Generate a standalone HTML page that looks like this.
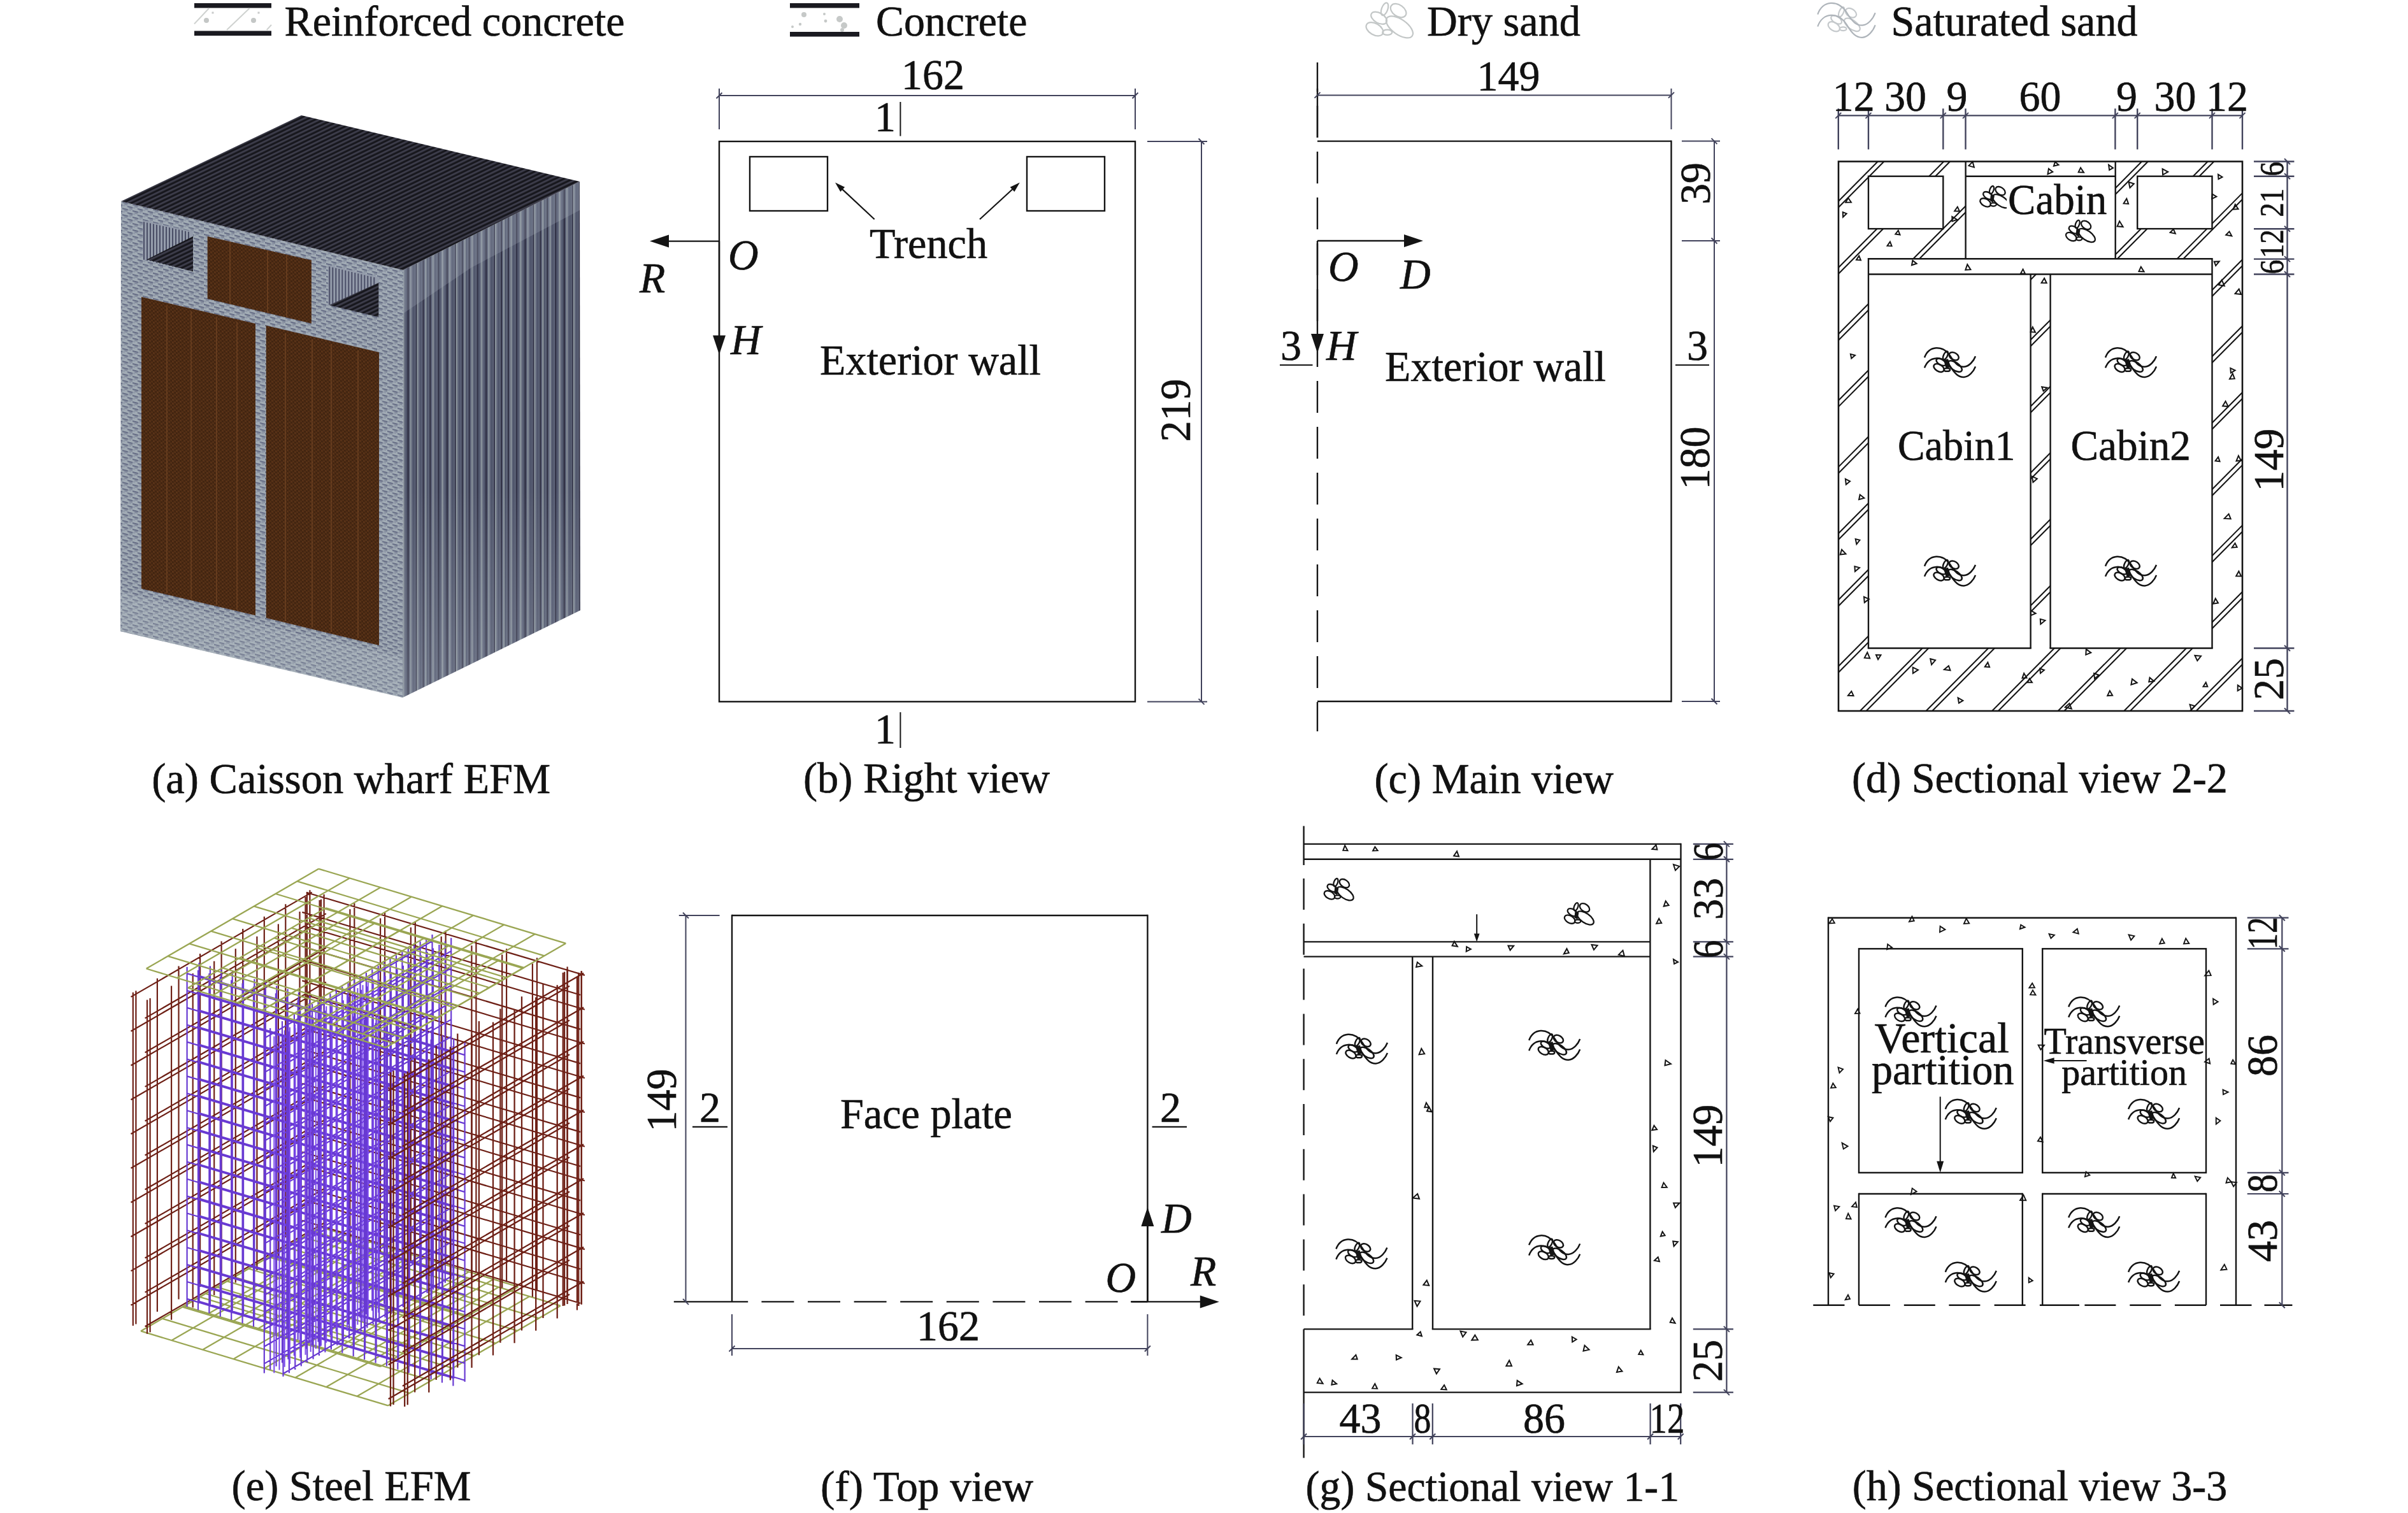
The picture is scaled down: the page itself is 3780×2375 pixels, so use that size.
<!DOCTYPE html>
<html><head><meta charset="utf-8"><title>Caisson wharf EFM</title>
<style>
html,body{margin:0;padding:0;background:#fff;}
svg{display:block;}
text{font-family:"Liberation Serif",serif;fill:#111;stroke:#111;stroke-width:0.65px;}
</style></head><body>
<svg width="3780" height="2375" viewBox="0 0 3780 2375">
<rect width="3780" height="2375" fill="#fff"/>
<g>
<rect x="305" y="5" width="121" height="7.5" fill="#1a1a20"/>
<rect x="305" y="48.5" width="121" height="7.5" fill="#1a1a20"/>
<line x1="305" y1="37.5" x2="328" y2="13" stroke="#cfd2d0" stroke-width="2"/>
<line x1="356" y1="47" x2="391.6" y2="13" stroke="#cfd2d0" stroke-width="2"/>
<line x1="418.7" y1="47" x2="426" y2="39" stroke="#cfd2d0" stroke-width="2"/>
<circle cx="324" cy="32" r="4" fill="#c4c7c6"/>
<circle cx="398" cy="32" r="4" fill="#c4c7c6"/>
<rect x="332.5" y="18.5" width="3" height="3" fill="#c8caca"/>
<rect x="404.5" y="18.5" width="3" height="3" fill="#c8caca"/>
</g>
<text x="0" y="0" text-anchor="start" style="font-size:68.31px;" transform="translate(446.6,55.8) scale(0.9662,1)" textLength="552.7" lengthAdjust="spacingAndGlyphs">Reinforced concrete</text>
<rect x="1240" y="5" width="109" height="7.5" fill="#1a1a20"/>
<rect x="1240" y="50" width="109" height="7.5" fill="#1a1a20"/>
<circle cx="1262" cy="23" r="4" fill="#c6c9c8"/>
<circle cx="1294" cy="22" r="2" fill="#c6c9c8"/>
<circle cx="1296" cy="33" r="2.4" fill="#c6c9c8"/>
<circle cx="1256" cy="38" r="2.2" fill="#c6c9c8"/>
<circle cx="1244" cy="42" r="2" fill="#c6c9c8"/>
<circle cx="1318" cy="30" r="5" fill="#c6c9c8"/>
<circle cx="1325" cy="40" r="5" fill="#c6c9c8"/>
<circle cx="1322" cy="47" r="3" fill="#c6c9c8"/>
<text x="0" y="0" text-anchor="start" style="font-size:68.31px;" transform="translate(1375.0,55.8) scale(0.9662,1)" textLength="245.8" lengthAdjust="spacingAndGlyphs">Concrete</text>
<text x="0" y="0" text-anchor="start" style="font-size:68.31px;" transform="translate(2240.0,55.8) scale(0.9662,1)" textLength="249.4" lengthAdjust="spacingAndGlyphs">Dry sand</text>
<text x="0" y="0" text-anchor="start" style="font-size:68.31px;" transform="translate(2968.5,55.8) scale(0.9662,1)" textLength="400.5" lengthAdjust="spacingAndGlyphs">Saturated sand</text>
<defs>
<g id="grains" fill="none">
 <ellipse cx="-4.4" cy="-11.1" rx="3.0" ry="6.5" transform="rotate(20 -4.4 -11.1)"/>
 <ellipse cx="9.1" cy="-9.6" rx="8.5" ry="5.6" transform="rotate(35 9.1 -9.6)"/>
 <ellipse cx="-10" cy="-2.3" rx="8.5" ry="4.9" transform="rotate(30 -10 -2.3)"/>
 <ellipse cx="-14.2" cy="8.6" rx="9.1" ry="5.6" transform="rotate(30 -14.2 8.6)"/>
 <ellipse cx="10.2" cy="6.5" rx="15.2" ry="7.4" transform="rotate(35 10.2 6.5)"/>
 <ellipse cx="-1.8" cy="11.7" rx="4.7" ry="2.6"/>
</g>
<g id="grains2" fill="none">
 <ellipse cx="-7" cy="-11.2" rx="3.0" ry="7.0" transform="rotate(25 -7 -11.2)"/>
 <ellipse cx="6.2" cy="-10" rx="8.2" ry="5.4" transform="rotate(30 6.2 -10)"/>
 <ellipse cx="-14" cy="-0.8" rx="8.2" ry="4.4" transform="rotate(30 -14 -0.8)"/>
 <ellipse cx="-17.4" cy="8.3" rx="8.8" ry="5.4" transform="rotate(30 -17.4 8.3)"/>
 <ellipse cx="7.9" cy="5.8" rx="12.6" ry="6.0" transform="rotate(35 7.9 5.8)"/>
 <ellipse cx="-4.6" cy="11.2" rx="4.7" ry="2.4"/>
</g>
<g id="dry" stroke="#141414" stroke-width="2.3"><use href="#grains"/><path d="M-6,-4 L0,-2 L-2,9 L-7,6 Z" fill="#141414" stroke="none"/></g>
<g id="sat" stroke="#141414" stroke-width="2.5" fill="none" transform="translate(0,1.2)">
 <use href="#grains2"/>
 <path d="M-10,-4 L-3,-6 L1,6 L-6,10 Z" fill="#141414" stroke="none"/>
 <path d="M-40,-8 C-33,-27 -12,-28 0,-11 C8,2 14,7 22,6.5 C30,6 37,-2 40,-10"/>
 <path d="M-40,8.2 C-33,-10.8 -12,-11.8 0,5.2 C8,18.2 14,23.2 22,22.7 C30,22.2 37,14.2 40,6.2"/>
</g>
</defs>
<g transform="translate(2180.6,32) scale(1.6)" stroke="#c3c7c7" stroke-width="1.4"><use href="#grains"/></g>
<g transform="translate(2898.5,32) scale(1.13,1.18)" stroke="#aeb4ba" stroke-width="1.9" fill="none"><use href="#grains2" stroke="#c5c9cc"/>
 <path d="M-40,-8 C-33,-27 -12,-28 0,-11 C8,2 14,7 22,6.5 C30,6 37,-2 40,-10"/>
 <path d="M-40,8.2 C-33,-10.8 -12,-11.8 0,5.2 C8,18.2 14,23.2 22,22.7 C30,22.2 37,14.2 40,6.2"/></g>
<defs>
<pattern id="pTop" width="6" height="6" patternUnits="userSpaceOnUse" patternTransform="rotate(-25.5)">
 <rect width="6" height="6" fill="#17171d"/><rect y="0" width="6" height="2.8" fill="#3d3d4b"/>
</pattern>
<pattern id="pFront" width="16" height="10" patternUnits="userSpaceOnUse" patternTransform="skewY(13.5)">
 <rect width="16" height="10" fill="#a2acb5"/>
 <rect x="0" y="0" width="9" height="2.2" fill="#666d85"/><rect x="8" y="5" width="9" height="2.2" fill="#666d85"/>
 <rect x="3" y="2.5" width="5" height="2" fill="#7d8598"/><rect x="11" y="7.5" width="5" height="2" fill="#7d8598"/>
 <rect x="0" y="5" width="4" height="1.6" fill="#8a92a3"/><rect x="10" y="0.3" width="4" height="1.6" fill="#8a92a3"/>
</pattern>
<pattern id="pRight" width="61.3" height="10" patternUnits="userSpaceOnUse">
 <rect width="61.3" height="10" fill="#5e6479"/><rect x="0.0" width="2" height="10" fill="#2e2e42"/><rect x="4.5" width="2" height="10" fill="#8e989f"/><rect x="8.5" width="2" height="10" fill="#4c5268"/><rect x="13.0" width="2.2" height="10" fill="#2e2e42"/><rect x="15.2" width="2" height="10" fill="#4c5268"/><rect x="19.2" width="2.3" height="10" fill="#8e989f"/><rect x="24.5" width="2" height="10" fill="#4c5268"/><rect x="26.5" width="2.4" height="10" fill="#2e2e42"/><rect x="30.9" width="1.8" height="10" fill="#8e989f"/><rect x="35.2" width="2.5" height="10" fill="#4c5268"/><rect x="39.7" width="1.8" height="10" fill="#2e2e42"/><rect x="41.5" width="2.2" height="10" fill="#8e989f"/><rect x="46.3" width="2" height="10" fill="#4c5268"/><rect x="50.5" width="2" height="10" fill="#2e2e42"/><rect x="54.3" width="2.4" height="10" fill="#8e989f"/><rect x="56.7" width="2.2" height="10" fill="#4c5268"/>
</pattern>
<pattern id="pBrown" width="6" height="6" patternUnits="userSpaceOnUse" patternTransform="skewY(13.5)">
 <rect width="6" height="6" fill="#5a3318"/><rect x="0" y="0" width="3" height="3" fill="#412410"/><rect x="3" y="3" width="3" height="3" fill="#412410"/><rect x="3" y="0" width="3" height="1.5" fill="#4e2c14"/>
</pattern>
<linearGradient id="gRight" x1="0" y1="0" x2="0" y2="1">
 <stop offset="0" stop-color="#b0b8c4" stop-opacity="0"/><stop offset=".6" stop-color="#b0b8c4" stop-opacity="0"/><stop offset="1" stop-color="#b0b8c4" stop-opacity=".28"/>
</linearGradient>
</defs>
<polygon points="633.0,424.0 910.0,285.0 911.0,958.0 632.0,1095.0" fill="url(#pRight)" stroke="none" stroke-width="0" />
<polygon points="633.0,424.0 910.0,285.0 910.0,330.0 740.0,420.0 633.0,492.0" fill="#b0b8c4" stroke="none" stroke-width="0" opacity=".24"/>
<polygon points="633.0,424.0 910.0,285.0 911.0,958.0 632.0,1095.0" fill="url(#gRight)" stroke="none" stroke-width="0" />
<polygon points="190.0,316.0 633.0,424.0 632.0,1095.0 189.0,991.0" fill="url(#pFront)" stroke="none" stroke-width="0" />
<polygon points="189.0,930.0 632.0,1032.0 632.0,1095.0 189.0,991.0" fill="#c4ccd2" stroke="none" stroke-width="0" opacity=".2"/>
<polygon points="190.0,316.0 473.0,181.0 910.0,285.0 633.0,424.0" fill="url(#pTop)" stroke="none" stroke-width="0" />
<polygon points="325.7,371.0 488.9,408.6 488.9,507.8 325.7,468.9" fill="url(#pBrown)" stroke="none" stroke-width="0" />
<polygon points="222.0,466.0 401.0,508.0 401.0,966.0 222.0,924.0" fill="url(#pBrown)" stroke="none" stroke-width="0" />
<polygon points="417.7,511.0 595.0,553.0 595.0,1013.0 417.7,970.0" fill="url(#pBrown)" stroke="none" stroke-width="0" />
<line x1="262" y1="479.4" x2="262" y2="931.4" stroke="#7a4a26" stroke-width="2" opacity=".55"/>
<line x1="300" y1="488.3" x2="300" y2="940.3" stroke="#7a4a26" stroke-width="2" opacity=".55"/>
<line x1="340" y1="497.7" x2="340" y2="949.7" stroke="#7a4a26" stroke-width="2" opacity=".55"/>
<line x1="372" y1="505.2" x2="372" y2="957.2" stroke="#7a4a26" stroke-width="2" opacity=".55"/>
<line x1="448" y1="523.1" x2="448" y2="975.1" stroke="#7a4a26" stroke-width="2" opacity=".55"/>
<line x1="490" y1="533.0" x2="490" y2="985.0" stroke="#7a4a26" stroke-width="2" opacity=".55"/>
<line x1="520" y1="540.0" x2="520" y2="992.0" stroke="#7a4a26" stroke-width="2" opacity=".55"/>
<line x1="562" y1="549.9" x2="562" y2="1001.9" stroke="#7a4a26" stroke-width="2" opacity=".55"/>
<line x1="361" y1="379.3" x2="361" y2="477.3" stroke="#7a4a26" stroke-width="2" opacity=".55"/>
<line x1="420" y1="393.2" x2="420" y2="491.2" stroke="#7a4a26" stroke-width="2" opacity=".55"/>
<line x1="450" y1="400.2" x2="450" y2="498.2" stroke="#7a4a26" stroke-width="2" opacity=".55"/>
<polygon points="224.0,345.8 303.0,363.4 303.0,426.0 224.0,407.3" fill="#949cab" stroke="none" stroke-width="0" />
<line x1="226.0" y1="348.2" x2="226.0" y2="407.8" stroke="#4a4e66" stroke-width="2"/>
<line x1="231.0" y1="349.4" x2="231.0" y2="409.0" stroke="#4a4e66" stroke-width="2"/>
<line x1="236.0" y1="350.5" x2="236.0" y2="410.1" stroke="#4a4e66" stroke-width="2"/>
<line x1="241.0" y1="351.6" x2="241.0" y2="411.3" stroke="#4a4e66" stroke-width="2"/>
<line x1="246.0" y1="352.7" x2="246.0" y2="412.5" stroke="#4a4e66" stroke-width="2"/>
<line x1="251.0" y1="353.8" x2="251.0" y2="413.7" stroke="#4a4e66" stroke-width="2"/>
<line x1="256.0" y1="354.9" x2="256.0" y2="414.9" stroke="#4a4e66" stroke-width="2"/>
<line x1="261.0" y1="356.0" x2="261.0" y2="416.1" stroke="#4a4e66" stroke-width="2"/>
<line x1="266.0" y1="357.2" x2="266.0" y2="417.2" stroke="#4a4e66" stroke-width="2"/>
<line x1="271.0" y1="358.3" x2="271.0" y2="418.4" stroke="#4a4e66" stroke-width="2"/>
<line x1="276.0" y1="359.4" x2="276.0" y2="419.6" stroke="#4a4e66" stroke-width="2"/>
<line x1="281.0" y1="360.5" x2="281.0" y2="420.8" stroke="#4a4e66" stroke-width="2"/>
<line x1="286.0" y1="361.6" x2="286.0" y2="422.0" stroke="#4a4e66" stroke-width="2"/>
<line x1="291.0" y1="362.7" x2="291.0" y2="423.2" stroke="#4a4e66" stroke-width="2"/>
<line x1="296.0" y1="363.8" x2="296.0" y2="424.3" stroke="#4a4e66" stroke-width="2"/>
<polygon points="230.3,407.5 303.0,371.0 303.0,426.2" fill="url(#pTop)" stroke="none" stroke-width="0" />
<polygon points="515.3,416.0 594.4,435.0 594.4,496.5 515.3,477.6" fill="#949cab" stroke="none" stroke-width="0" />
<line x1="517.3" y1="418.5" x2="517.3" y2="478.1" stroke="#4a4e66" stroke-width="2"/>
<line x1="522.3" y1="419.7" x2="522.3" y2="479.3" stroke="#4a4e66" stroke-width="2"/>
<line x1="527.3" y1="420.9" x2="527.3" y2="480.5" stroke="#4a4e66" stroke-width="2"/>
<line x1="532.3" y1="422.1" x2="532.3" y2="481.7" stroke="#4a4e66" stroke-width="2"/>
<line x1="537.3" y1="423.3" x2="537.3" y2="482.9" stroke="#4a4e66" stroke-width="2"/>
<line x1="542.3" y1="424.5" x2="542.3" y2="484.1" stroke="#4a4e66" stroke-width="2"/>
<line x1="547.3" y1="425.7" x2="547.3" y2="485.2" stroke="#4a4e66" stroke-width="2"/>
<line x1="552.3" y1="426.9" x2="552.3" y2="486.4" stroke="#4a4e66" stroke-width="2"/>
<line x1="557.3" y1="428.1" x2="557.3" y2="487.6" stroke="#4a4e66" stroke-width="2"/>
<line x1="562.3" y1="429.3" x2="562.3" y2="488.8" stroke="#4a4e66" stroke-width="2"/>
<line x1="567.3" y1="430.5" x2="567.3" y2="490.0" stroke="#4a4e66" stroke-width="2"/>
<line x1="572.3" y1="431.7" x2="572.3" y2="491.2" stroke="#4a4e66" stroke-width="2"/>
<line x1="577.3" y1="432.9" x2="577.3" y2="492.4" stroke="#4a4e66" stroke-width="2"/>
<line x1="582.3" y1="434.1" x2="582.3" y2="493.6" stroke="#4a4e66" stroke-width="2"/>
<line x1="587.3" y1="435.3" x2="587.3" y2="494.8" stroke="#4a4e66" stroke-width="2"/>
<polygon points="516.5,478.9 594.4,443.7 594.4,497.7" fill="url(#pTop)" stroke="none" stroke-width="0" />
<text x="0" y="0" text-anchor="start" style="font-size:68.31px;" transform="translate(238.2,1244.6) scale(0.9662,1)" textLength="647.9" lengthAdjust="spacingAndGlyphs">(a) Caisson wharf EFM</text>
<rect x="1129.0" y="222.0" width="653.0" height="879.4" fill="none" stroke="#141414" stroke-width="2.4"/>
<rect x="1177.0" y="246.0" width="122.0" height="85.0" fill="none" stroke="#141414" stroke-width="2.4"/>
<rect x="1612.0" y="246.0" width="122.0" height="85.0" fill="none" stroke="#141414" stroke-width="2.4"/>
<line x1="1129.0" y1="150.0" x2="1782.0" y2="150.0" stroke="#41425b" stroke-width="2" />
<line x1="1129.0" y1="139.0" x2="1129.0" y2="203.0" stroke="#41425b" stroke-width="2" />
<line x1="1782.0" y1="139.0" x2="1782.0" y2="203.0" stroke="#41425b" stroke-width="2" />
<line x1="1124.5" y1="154.5" x2="1133.5" y2="145.5" stroke="#41425b" stroke-width="2" />
<line x1="1777.5" y1="154.5" x2="1786.5" y2="145.5" stroke="#41425b" stroke-width="2" />
<text x="0" y="0" text-anchor="middle" style="font-size:68.31px;" transform="translate(1464.5,140.0) scale(0.9662,1)">162</text>
<text x="0" y="0" text-anchor="start" style="font-size:68.31px;" transform="translate(1373.0,205.6) scale(0.9662,1)">1</text>
<line x1="1413.4" y1="160.0" x2="1413.4" y2="213.6" stroke="#141414" stroke-width="2" />
<text x="0" y="0" text-anchor="start" style="font-size:68.31px;" transform="translate(1373.0,1167.0) scale(0.9662,1)">1</text>
<line x1="1413.4" y1="1118.0" x2="1413.4" y2="1174.0" stroke="#141414" stroke-width="2" />
<line x1="1886.0" y1="222.0" x2="1886.0" y2="1101.4" stroke="#41425b" stroke-width="2" />
<line x1="1801.0" y1="222.0" x2="1895.0" y2="222.0" stroke="#41425b" stroke-width="2" />
<line x1="1801.0" y1="1101.4" x2="1895.0" y2="1101.4" stroke="#41425b" stroke-width="2" />
<line x1="1881.5" y1="217.5" x2="1890.5" y2="226.5" stroke="#41425b" stroke-width="2" />
<line x1="1881.5" y1="1096.9" x2="1890.5" y2="1105.9" stroke="#41425b" stroke-width="2" />
<text x="0" y="0" text-anchor="middle" style="font-size:68.31px;" transform="translate(1868.0,644.0) rotate(-90) scale(0.9662,1)">219</text>
<line x1="1372.7" y1="344.3" x2="1321.2" y2="296.1" stroke="#141414" stroke-width="2.2" />
<polygon points="1311.0,286.5 1326.1,293.8 1319.3,301.1" fill="#141414" stroke="none" stroke-width="0" />
<line x1="1538.0" y1="344.3" x2="1590.5" y2="296.0" stroke="#141414" stroke-width="2.2" />
<polygon points="1600.8,286.5 1592.4,301.0 1585.6,293.7" fill="#141414" stroke="none" stroke-width="0" />
<text x="0" y="0" text-anchor="start" style="font-size:68.31px;" transform="translate(1365.0,405.0) scale(0.9662,1)" textLength="191.5" lengthAdjust="spacingAndGlyphs">Trench</text>
<text x="0" y="0" text-anchor="start" style="font-size:68.31px;" transform="translate(1287.0,588.0) scale(0.9662,1)" textLength="359.1" lengthAdjust="spacingAndGlyphs">Exterior wall</text>
<line x1="1129.0" y1="378.6" x2="1048.0" y2="378.6" stroke="#141414" stroke-width="2.4" />
<polygon points="1020.0,378.6 1050.0,368.6 1050.0,388.6" fill="#141414" stroke="none" stroke-width="0" />
<line x1="1129.0" y1="378.6" x2="1129.0" y2="528.4" stroke="#141414" stroke-width="2.4" />
<polygon points="1129.0,556.4 1119.0,526.4 1139.0,526.4" fill="#141414" stroke="none" stroke-width="0" />
<text x="0" y="0" text-anchor="start" style="font-size:68.31px;font-style:italic;" transform="translate(1143.0,423.0) scale(0.9662,1)">O</text>
<text x="0" y="0" text-anchor="start" style="font-size:68.31px;font-style:italic;" transform="translate(1004.0,459.0) scale(0.9662,1)">R</text>
<text x="0" y="0" text-anchor="start" style="font-size:68.31px;font-style:italic;" transform="translate(1147.0,556.0) scale(0.9662,1)">H</text>
<text x="0" y="0" text-anchor="start" style="font-size:68.31px;" transform="translate(1261.0,1243.5) scale(0.9662,1)" textLength="400.5" lengthAdjust="spacingAndGlyphs">(b) Right view</text>
<line x1="2068.0" y1="221.6" x2="2623.5" y2="221.6" stroke="#141414" stroke-width="2.4" />
<line x1="2623.5" y1="220.4" x2="2623.5" y2="1102.2" stroke="#141414" stroke-width="2.4" />
<line x1="2068.0" y1="1101.0" x2="2623.5" y2="1101.0" stroke="#141414" stroke-width="2.4" />
<line x1="2068.0" y1="98.0" x2="2068.0" y2="1148.0" stroke="#141414" stroke-width="2.4" stroke-dasharray="50 22" stroke-dashoffset="4"/>
<line x1="2068.0" y1="149.4" x2="2623.5" y2="149.4" stroke="#41425b" stroke-width="2" />
<line x1="2068.0" y1="139.0" x2="2068.0" y2="216.0" stroke="#141414" stroke-width="2.4" />
<line x1="2623.5" y1="139.0" x2="2623.5" y2="203.0" stroke="#41425b" stroke-width="2" />
<line x1="2063.5" y1="153.9" x2="2072.5" y2="144.9" stroke="#41425b" stroke-width="2" />
<line x1="2619.0" y1="153.9" x2="2628.0" y2="144.9" stroke="#41425b" stroke-width="2" />
<text x="0" y="0" text-anchor="middle" style="font-size:68.31px;" transform="translate(2368.0,141.5) scale(0.9662,1)">149</text>
<line x1="2691.0" y1="221.6" x2="2691.0" y2="1101.0" stroke="#41425b" stroke-width="2" />
<line x1="2640.0" y1="221.6" x2="2700.0" y2="221.6" stroke="#41425b" stroke-width="2" />
<line x1="2686.5" y1="217.1" x2="2695.5" y2="226.1" stroke="#41425b" stroke-width="2" />
<line x1="2640.0" y1="378.0" x2="2700.0" y2="378.0" stroke="#41425b" stroke-width="2" />
<line x1="2686.5" y1="373.5" x2="2695.5" y2="382.5" stroke="#41425b" stroke-width="2" />
<line x1="2640.0" y1="1101.0" x2="2700.0" y2="1101.0" stroke="#41425b" stroke-width="2" />
<line x1="2686.5" y1="1096.5" x2="2695.5" y2="1105.5" stroke="#41425b" stroke-width="2" />
<text x="0" y="0" text-anchor="middle" style="font-size:68.31px;" transform="translate(2684.0,288.0) rotate(-90) scale(0.9662,1)">39</text>
<text x="0" y="0" text-anchor="middle" style="font-size:68.31px;" transform="translate(2683.0,719.0) rotate(-90) scale(0.9662,1)">180</text>
<line x1="2068.0" y1="378.0" x2="2206.0" y2="378.0" stroke="#141414" stroke-width="2.4" />
<polygon points="2234.0,378.0 2204.0,388.0 2204.0,368.0" fill="#141414" stroke="none" stroke-width="0" />
<line x1="2068.0" y1="378.0" x2="2068.0" y2="526.0" stroke="#141414" stroke-width="2.4" />
<polygon points="2068.0,554.0 2058.0,524.0 2078.0,524.0" fill="#141414" stroke="none" stroke-width="0" />
<text x="0" y="0" text-anchor="start" style="font-size:68.31px;font-style:italic;" transform="translate(2085.0,441.0) scale(0.9662,1)">O</text>
<text x="0" y="0" text-anchor="start" style="font-size:68.31px;font-style:italic;" transform="translate(2198.0,453.0) scale(0.9662,1)">D</text>
<text x="0" y="0" text-anchor="start" style="font-size:68.31px;font-style:italic;" transform="translate(2082.0,564.6) scale(0.9662,1)">H</text>
<text x="0" y="0" text-anchor="start" style="font-size:68.31px;" transform="translate(2010.0,564.6) scale(0.9662,1)">3</text>
<line x1="2009.0" y1="573.0" x2="2060.5" y2="573.0" stroke="#141414" stroke-width="2.2" />
<text x="0" y="0" text-anchor="start" style="font-size:68.31px;" transform="translate(2648.0,564.6) scale(0.9662,1)">3</text>
<line x1="2630.0" y1="573.0" x2="2683.0" y2="573.0" stroke="#141414" stroke-width="2.2" />
<text x="0" y="0" text-anchor="start" style="font-size:68.31px;" transform="translate(2174.0,597.6) scale(0.9662,1)" textLength="359.1" lengthAdjust="spacingAndGlyphs">Exterior wall</text>
<text x="0" y="0" text-anchor="start" style="font-size:68.31px;" transform="translate(2157.5,1244.7) scale(0.9662,1)" textLength="388.6" lengthAdjust="spacingAndGlyphs">(c) Main view</text>
<line x1="1149.0" y1="1437.0" x2="1801.4" y2="1437.0" stroke="#141414" stroke-width="2.4" />
<line x1="1149.0" y1="1435.8" x2="1149.0" y2="2043.4" stroke="#141414" stroke-width="2.4" />
<line x1="1801.4" y1="1435.8" x2="1801.4" y2="2043.4" stroke="#141414" stroke-width="2.4" />
<line x1="1057.8" y1="2043.4" x2="1174.2" y2="2043.4" stroke="#141414" stroke-width="2.4" />
<line x1="1195.4" y1="2043.4" x2="1801.4" y2="2043.4" stroke="#141414" stroke-width="2.4" stroke-dasharray="51 21.6"/>
<line x1="1775.0" y1="2043.4" x2="1885.8" y2="2043.4" stroke="#141414" stroke-width="2.4" />
<polygon points="1913.8,2043.4 1883.8,2053.4 1883.8,2033.4" fill="#141414" stroke="none" stroke-width="0" />
<line x1="1801.4" y1="2043.4" x2="1801.4" y2="1923.0" stroke="#141414" stroke-width="2.4" />
<polygon points="1801.4,1895.0 1811.4,1925.0 1791.4,1925.0" fill="#141414" stroke="none" stroke-width="0" />
<line x1="1076.5" y1="1437.0" x2="1076.5" y2="2043.4" stroke="#41425b" stroke-width="2" />
<line x1="1065.8" y1="1437.0" x2="1129.6" y2="1437.0" stroke="#41425b" stroke-width="2" />
<line x1="1072.0" y1="1432.5" x2="1081.0" y2="1441.5" stroke="#41425b" stroke-width="2" />
<line x1="1072.0" y1="2038.9" x2="1081.0" y2="2047.9" stroke="#41425b" stroke-width="2" />
<text x="0" y="0" text-anchor="middle" style="font-size:68.31px;" transform="translate(1061.0,1727.0) rotate(-90) scale(0.9662,1)">149</text>
<text x="0" y="0" text-anchor="start" style="font-size:68.31px;" transform="translate(1098.0,1760.8) scale(0.9662,1)">2</text>
<line x1="1087.0" y1="1768.8" x2="1142.0" y2="1768.8" stroke="#141414" stroke-width="2.2" />
<text x="0" y="0" text-anchor="start" style="font-size:68.31px;" transform="translate(1821.0,1760.8) scale(0.9662,1)">2</text>
<line x1="1808.6" y1="1768.8" x2="1863.0" y2="1768.8" stroke="#141414" stroke-width="2.2" />
<text x="0" y="0" text-anchor="start" style="font-size:68.31px;" transform="translate(1319.0,1770.8) scale(0.9662,1)" textLength="279.4" lengthAdjust="spacingAndGlyphs">Face plate</text>
<text x="0" y="0" text-anchor="start" style="font-size:68.31px;font-style:italic;" transform="translate(1823.0,1934.5) scale(0.9662,1)">D</text>
<text x="0" y="0" text-anchor="start" style="font-size:68.31px;font-style:italic;" transform="translate(1735.6,2027.5) scale(0.9662,1)">O</text>
<text x="0" y="0" text-anchor="start" style="font-size:68.31px;font-style:italic;" transform="translate(1869.0,2017.5) scale(0.9662,1)">R</text>
<line x1="1149.0" y1="2117.0" x2="1801.4" y2="2117.0" stroke="#41425b" stroke-width="2" />
<line x1="1149.0" y1="2063.0" x2="1149.0" y2="2128.0" stroke="#41425b" stroke-width="2" />
<line x1="1801.4" y1="2063.0" x2="1801.4" y2="2128.0" stroke="#41425b" stroke-width="2" />
<line x1="1144.5" y1="2121.5" x2="1153.5" y2="2112.5" stroke="#41425b" stroke-width="2" />
<line x1="1796.9" y1="2121.5" x2="1805.9" y2="2112.5" stroke="#41425b" stroke-width="2" />
<text x="0" y="0" text-anchor="middle" style="font-size:68.31px;" transform="translate(1488.4,2104.0) scale(0.9662,1)">162</text>
<text x="0" y="0" text-anchor="start" style="font-size:68.31px;" transform="translate(1288.0,2356.4) scale(0.9662,1)" textLength="345.7" lengthAdjust="spacingAndGlyphs">(f) Top view</text>
<clipPath id="clipD"><path d="M2886,253.5H3520V1116H2886ZM2933,276.7H3050.3V359.1H2933ZM3355.2,276.7H3472.5V359.1H3355.2ZM3085.6,253.5H3320.7V406.3H3085.6ZM2933,406.3H3472.5V430.5H2933ZM2933,430.5H3187.6V1017.5H2933ZM3218.6,430.5H3472.5V1017.5H3218.6Z" clip-rule="evenodd"/></clipPath>
<g clip-path="url(#clipD)">
<line x1="2881.0" y1="216.4" x2="3525.0" y2="-432.0" stroke="#141414" stroke-width="2.1" />
<line x1="2881.0" y1="226.2" x2="3525.0" y2="-422.2" stroke="#141414" stroke-width="2.1" />
<line x1="2881.0" y1="320.7" x2="3525.0" y2="-327.7" stroke="#141414" stroke-width="2.1" />
<line x1="2881.0" y1="330.5" x2="3525.0" y2="-317.9" stroke="#141414" stroke-width="2.1" />
<line x1="2881.0" y1="425.0" x2="3525.0" y2="-223.4" stroke="#141414" stroke-width="2.1" />
<line x1="2881.0" y1="434.8" x2="3525.0" y2="-213.6" stroke="#141414" stroke-width="2.1" />
<line x1="2881.0" y1="529.3" x2="3525.0" y2="-119.1" stroke="#141414" stroke-width="2.1" />
<line x1="2881.0" y1="539.1" x2="3525.0" y2="-109.3" stroke="#141414" stroke-width="2.1" />
<line x1="2881.0" y1="633.6" x2="3525.0" y2="-14.8" stroke="#141414" stroke-width="2.1" />
<line x1="2881.0" y1="643.4" x2="3525.0" y2="-5.0" stroke="#141414" stroke-width="2.1" />
<line x1="2881.0" y1="737.9" x2="3525.0" y2="89.5" stroke="#141414" stroke-width="2.1" />
<line x1="2881.0" y1="747.7" x2="3525.0" y2="99.3" stroke="#141414" stroke-width="2.1" />
<line x1="2881.0" y1="842.2" x2="3525.0" y2="193.8" stroke="#141414" stroke-width="2.1" />
<line x1="2881.0" y1="852.0" x2="3525.0" y2="203.6" stroke="#141414" stroke-width="2.1" />
<line x1="2881.0" y1="946.5" x2="3525.0" y2="298.1" stroke="#141414" stroke-width="2.1" />
<line x1="2881.0" y1="956.3" x2="3525.0" y2="307.9" stroke="#141414" stroke-width="2.1" />
<line x1="2881.0" y1="1050.8" x2="3525.0" y2="402.4" stroke="#141414" stroke-width="2.1" />
<line x1="2881.0" y1="1060.6" x2="3525.0" y2="412.2" stroke="#141414" stroke-width="2.1" />
<line x1="2881.0" y1="1155.1" x2="3525.0" y2="506.7" stroke="#141414" stroke-width="2.1" />
<line x1="2881.0" y1="1164.9" x2="3525.0" y2="516.5" stroke="#141414" stroke-width="2.1" />
<line x1="2881.0" y1="1259.4" x2="3525.0" y2="611.0" stroke="#141414" stroke-width="2.1" />
<line x1="2881.0" y1="1269.2" x2="3525.0" y2="620.8" stroke="#141414" stroke-width="2.1" />
<line x1="2881.0" y1="1363.7" x2="3525.0" y2="715.3" stroke="#141414" stroke-width="2.1" />
<line x1="2881.0" y1="1373.5" x2="3525.0" y2="725.1" stroke="#141414" stroke-width="2.1" />
<line x1="2881.0" y1="1468.0" x2="3525.0" y2="819.6" stroke="#141414" stroke-width="2.1" />
<line x1="2881.0" y1="1477.8" x2="3525.0" y2="829.4" stroke="#141414" stroke-width="2.1" />
<line x1="2881.0" y1="1572.3" x2="3525.0" y2="923.9" stroke="#141414" stroke-width="2.1" />
<line x1="2881.0" y1="1582.1" x2="3525.0" y2="933.7" stroke="#141414" stroke-width="2.1" />
<line x1="2881.0" y1="1676.6" x2="3525.0" y2="1028.2" stroke="#141414" stroke-width="2.1" />
<line x1="2881.0" y1="1686.4" x2="3525.0" y2="1038.0" stroke="#141414" stroke-width="2.1" />
<line x1="2881.0" y1="1780.9" x2="3525.0" y2="1132.5" stroke="#141414" stroke-width="2.1" />
<line x1="2881.0" y1="1790.7" x2="3525.0" y2="1142.3" stroke="#141414" stroke-width="2.1" />
</g>
<rect x="2886.0" y="253.5" width="634.0" height="862.5" fill="none" stroke="#141414" stroke-width="2.6"/>
<rect x="2933.0" y="276.7" width="117.3" height="82.4" fill="none" stroke="#141414" stroke-width="2.4"/>
<rect x="3355.2" y="276.7" width="117.3" height="82.4" fill="none" stroke="#141414" stroke-width="2.4"/>
<line x1="3085.6" y1="253.5" x2="3085.6" y2="406.3" stroke="#141414" stroke-width="2.4" />
<line x1="3320.7" y1="253.5" x2="3320.7" y2="406.3" stroke="#141414" stroke-width="2.4" />
<line x1="3085.6" y1="276.7" x2="3320.7" y2="276.7" stroke="#141414" stroke-width="2.4" />
<line x1="2933.0" y1="406.3" x2="3472.5" y2="406.3" stroke="#141414" stroke-width="2.4" />
<line x1="2933.0" y1="430.5" x2="3472.5" y2="430.5" stroke="#141414" stroke-width="2.4" />
<line x1="2933.0" y1="405.1" x2="2933.0" y2="1017.5" stroke="#141414" stroke-width="2.4" />
<line x1="3472.5" y1="405.1" x2="3472.5" y2="1017.5" stroke="#141414" stroke-width="2.4" />
<line x1="3187.6" y1="430.5" x2="3187.6" y2="1017.5" stroke="#141414" stroke-width="2.4" />
<line x1="3218.6" y1="430.5" x2="3218.6" y2="1017.5" stroke="#141414" stroke-width="2.4" />
<line x1="2931.8" y1="1017.5" x2="3188.8" y2="1017.5" stroke="#141414" stroke-width="2.4" />
<line x1="3217.4" y1="1017.5" x2="3473.7" y2="1017.5" stroke="#141414" stroke-width="2.4" />
<line x1="2885.8" y1="181.4" x2="3520.0" y2="181.4" stroke="#41425b" stroke-width="2.4" />
<line x1="2885.8" y1="170.4" x2="2885.8" y2="234.5" stroke="#41425b" stroke-width="2.4" />
<line x1="2881.3" y1="185.9" x2="2890.3" y2="176.9" stroke="#41425b" stroke-width="2" />
<line x1="2933.0" y1="170.4" x2="2933.0" y2="234.5" stroke="#41425b" stroke-width="2.4" />
<line x1="2928.5" y1="185.9" x2="2937.5" y2="176.9" stroke="#41425b" stroke-width="2" />
<line x1="3050.3" y1="170.4" x2="3050.3" y2="234.5" stroke="#41425b" stroke-width="2.4" />
<line x1="3045.8" y1="185.9" x2="3054.8" y2="176.9" stroke="#41425b" stroke-width="2" />
<line x1="3085.5" y1="170.4" x2="3085.5" y2="234.5" stroke="#41425b" stroke-width="2.4" />
<line x1="3081.0" y1="185.9" x2="3090.0" y2="176.9" stroke="#41425b" stroke-width="2" />
<line x1="3320.4" y1="170.4" x2="3320.4" y2="234.5" stroke="#41425b" stroke-width="2.4" />
<line x1="3315.9" y1="185.9" x2="3324.9" y2="176.9" stroke="#41425b" stroke-width="2" />
<line x1="3355.2" y1="170.4" x2="3355.2" y2="234.5" stroke="#41425b" stroke-width="2.4" />
<line x1="3350.7" y1="185.9" x2="3359.7" y2="176.9" stroke="#41425b" stroke-width="2" />
<line x1="3472.5" y1="170.4" x2="3472.5" y2="234.5" stroke="#41425b" stroke-width="2.4" />
<line x1="3468.0" y1="185.9" x2="3477.0" y2="176.9" stroke="#41425b" stroke-width="2" />
<line x1="3520.0" y1="170.4" x2="3520.0" y2="234.5" stroke="#41425b" stroke-width="2.4" />
<line x1="3515.5" y1="185.9" x2="3524.5" y2="176.9" stroke="#41425b" stroke-width="2" />
<text x="0" y="0" text-anchor="middle" style="font-size:68.31px;" transform="translate(2909.7,173.7) scale(0.9662,1)">12</text>
<text x="0" y="0" text-anchor="middle" style="font-size:68.31px;" transform="translate(2991.0,173.7) scale(0.9662,1)">30</text>
<text x="0" y="0" text-anchor="middle" style="font-size:68.31px;" transform="translate(3072.0,173.7) scale(0.9662,1)">9</text>
<text x="0" y="0" text-anchor="middle" style="font-size:68.31px;" transform="translate(3202.5,173.7) scale(0.9662,1)">60</text>
<text x="0" y="0" text-anchor="middle" style="font-size:68.31px;" transform="translate(3338.5,173.7) scale(0.9662,1)">9</text>
<text x="0" y="0" text-anchor="middle" style="font-size:68.31px;" transform="translate(3414.5,173.7) scale(0.9662,1)">30</text>
<text x="0" y="0" text-anchor="middle" style="font-size:68.31px;" transform="translate(3496.0,173.7) scale(0.9662,1)">12</text>
<line x1="3590.5" y1="253.5" x2="3590.5" y2="1116.0" stroke="#41425b" stroke-width="2.4" />
<line x1="3538.0" y1="253.5" x2="3601.4" y2="253.5" stroke="#41425b" stroke-width="2.4" />
<line x1="3586.0" y1="249.0" x2="3595.0" y2="258.0" stroke="#41425b" stroke-width="2" />
<line x1="3538.0" y1="276.8" x2="3601.4" y2="276.8" stroke="#41425b" stroke-width="2.4" />
<line x1="3586.0" y1="272.3" x2="3595.0" y2="281.3" stroke="#41425b" stroke-width="2" />
<line x1="3538.0" y1="359.2" x2="3601.4" y2="359.2" stroke="#41425b" stroke-width="2.4" />
<line x1="3586.0" y1="354.7" x2="3595.0" y2="363.7" stroke="#41425b" stroke-width="2" />
<line x1="3538.0" y1="406.6" x2="3601.4" y2="406.6" stroke="#41425b" stroke-width="2.4" />
<line x1="3586.0" y1="402.1" x2="3595.0" y2="411.1" stroke="#41425b" stroke-width="2" />
<line x1="3538.0" y1="430.5" x2="3601.4" y2="430.5" stroke="#41425b" stroke-width="2.4" />
<line x1="3586.0" y1="426.0" x2="3595.0" y2="435.0" stroke="#41425b" stroke-width="2" />
<line x1="3538.0" y1="1017.5" x2="3601.4" y2="1017.5" stroke="#41425b" stroke-width="2.4" />
<line x1="3586.0" y1="1013.0" x2="3595.0" y2="1022.0" stroke="#41425b" stroke-width="2" />
<line x1="3538.0" y1="1116.0" x2="3601.4" y2="1116.0" stroke="#41425b" stroke-width="2.4" />
<line x1="3586.0" y1="1111.5" x2="3595.0" y2="1120.5" stroke="#41425b" stroke-width="2" />
<text x="0" y="0" text-anchor="middle" style="font-size:51.75px;" transform="translate(3584.4,265.2) rotate(-90) scale(0.8696,1)">6</text>
<text x="0" y="0" text-anchor="middle" style="font-size:51.75px;" transform="translate(3584.4,318.3) rotate(-90) scale(0.8696,1)">21</text>
<text x="0" y="0" text-anchor="middle" style="font-size:51.75px;" transform="translate(3584.4,382.7) rotate(-90) scale(0.8696,1)">12</text>
<text x="0" y="0" text-anchor="middle" style="font-size:51.75px;" transform="translate(3584.4,419.0) rotate(-90) scale(0.8696,1)">6</text>
<text x="0" y="0" text-anchor="middle" style="font-size:68.31px;" transform="translate(3583.5,722.0) rotate(-90) scale(0.9662,1)">149</text>
<text x="0" y="0" text-anchor="middle" style="font-size:68.31px;" transform="translate(3583.5,1066.0) rotate(-90) scale(0.9662,1)">25</text>
<use href="#dry" x="3130.9" y="309.3"/>
<rect x="3150" y="300" width="30" height="36" fill="#fff"/>
<text x="0" y="0" text-anchor="start" style="font-size:68.31px;" transform="translate(3152.0,336.3) scale(0.9662,1)" textLength="160.8" lengthAdjust="spacingAndGlyphs">Cabin</text>
<use href="#dry" x="3265.5" y="363.0"/>
<text x="0" y="0" text-anchor="start" style="font-size:68.31px;" transform="translate(2979.0,722.0) scale(0.9662,1)" textLength="191.0" lengthAdjust="spacingAndGlyphs">Cabin1</text>
<text x="0" y="0" text-anchor="start" style="font-size:68.31px;" transform="translate(3250.5,722.0) scale(0.9662,1)" textLength="195.1" lengthAdjust="spacingAndGlyphs">Cabin2</text>
<use href="#sat" x="3061.0" y="568.0"/>
<use href="#sat" x="3345.0" y="568.0"/>
<use href="#sat" x="3061.0" y="895.5"/>
<use href="#sat" x="3345.0" y="895.5"/>
<polygon points="2901.3,310.8 2905.9,317.5 2897.2,317.8" fill="none" stroke="#141414" stroke-width="2.0" stroke-linejoin="miter"/>
<polygon points="2893.1,340.7 2892.8,333.0 2898.7,335.3" fill="none" stroke="#141414" stroke-width="2.0" stroke-linejoin="miter"/>
<polygon points="2975.3,367.5 2979.8,361.8 2982.5,368.5" fill="none" stroke="#141414" stroke-width="2.0" stroke-linejoin="miter"/>
<polygon points="2967.0,379.5 2969.6,386.2 2962.6,385.9" fill="none" stroke="#141414" stroke-width="2.0" stroke-linejoin="miter"/>
<polygon points="2914.1,407.9 2918.2,401.6 2921.0,408.3" fill="none" stroke="#141414" stroke-width="2.0" stroke-linejoin="miter"/>
<polygon points="3008.6,413.7 3001.0,416.3 3002.4,408.9" fill="none" stroke="#141414" stroke-width="2.0" stroke-linejoin="miter"/>
<polygon points="3088.3,415.1 3093.4,423.2 3085.3,423.6" fill="none" stroke="#141414" stroke-width="2.0" stroke-linejoin="miter"/>
<polygon points="3175.6,422.6 3178.9,429.4 3172.0,429.2" fill="none" stroke="#141414" stroke-width="2.0" stroke-linejoin="miter"/>
<polygon points="3090.4,260.1 3096.6,254.0 3098.9,262.6" fill="none" stroke="#141414" stroke-width="2.0" stroke-linejoin="miter"/>
<polygon points="3222.2,269.8 3214.5,273.3 3215.9,264.9" fill="none" stroke="#141414" stroke-width="2.0" stroke-linejoin="miter"/>
<polygon points="3231.5,258.8 3223.9,260.7 3226.0,254.1" fill="none" stroke="#141414" stroke-width="2.0" stroke-linejoin="miter"/>
<polygon points="3266.1,263.3 3271.0,270.6 3262.7,270.3" fill="none" stroke="#141414" stroke-width="2.0" stroke-linejoin="miter"/>
<polygon points="3310.1,258.7 3317.0,263.6 3311.2,266.9" fill="none" stroke="#141414" stroke-width="2.0" stroke-linejoin="miter"/>
<polygon points="3343.5,294.7 3341.6,285.8 3349.8,288.5" fill="none" stroke="#141414" stroke-width="2.0" stroke-linejoin="miter"/>
<polygon points="3338.3,311.8 3341.1,320.0 3333.6,319.4" fill="none" stroke="#141414" stroke-width="2.0" stroke-linejoin="miter"/>
<polygon points="3327.2,347.2 3332.6,356.0 3323.6,355.3" fill="none" stroke="#141414" stroke-width="2.0" stroke-linejoin="miter"/>
<polygon points="3394.6,265.2 3403.2,269.8 3395.1,274.3" fill="none" stroke="#141414" stroke-width="2.0" stroke-linejoin="miter"/>
<polygon points="3482.0,273.9 3488.5,277.9 3482.5,281.2" fill="none" stroke="#141414" stroke-width="2.0" stroke-linejoin="miter"/>
<polygon points="3479.4,308.7 3472.1,312.2 3472.8,304.6" fill="none" stroke="#141414" stroke-width="2.0" stroke-linejoin="miter"/>
<polygon points="3508.7,320.8 3513.5,328.1 3505.6,328.7" fill="none" stroke="#141414" stroke-width="2.0" stroke-linejoin="miter"/>
<polygon points="3406.6,365.0 3411.8,359.7 3414.8,366.7" fill="none" stroke="#141414" stroke-width="2.0" stroke-linejoin="miter"/>
<polygon points="3494.3,368.8 3499.5,363.4 3503.3,370.5" fill="none" stroke="#141414" stroke-width="2.0" stroke-linejoin="miter"/>
<polygon points="3483.7,410.4 3478.2,417.1 3475.8,410.7" fill="none" stroke="#141414" stroke-width="2.0" stroke-linejoin="miter"/>
<polygon points="3360.8,418.8 3365.6,426.4 3357.5,426.1" fill="none" stroke="#141414" stroke-width="2.0" stroke-linejoin="miter"/>
<polygon points="3209.1,436.8 3212.7,444.3 3204.6,444.1" fill="none" stroke="#141414" stroke-width="2.0" stroke-linejoin="miter"/>
<polygon points="3487.7,439.6 3491.8,448.8 3482.9,447.2" fill="none" stroke="#141414" stroke-width="2.0" stroke-linejoin="miter"/>
<polygon points="3508.6,461.0 3514.7,453.6 3518.0,462.1" fill="none" stroke="#141414" stroke-width="2.0" stroke-linejoin="miter"/>
<polygon points="3190.8,513.4 3195.0,521.7 3187.6,521.0" fill="none" stroke="#141414" stroke-width="2.0" stroke-linejoin="miter"/>
<polygon points="2906.3,562.6 2904.9,555.8 2912.0,557.8" fill="none" stroke="#141414" stroke-width="2.0" stroke-linejoin="miter"/>
<polygon points="3504.7,586.3 3507.8,594.4 3500.0,594.9" fill="none" stroke="#141414" stroke-width="2.0" stroke-linejoin="miter"/>
<polygon points="3068.2,331.3 3072.8,324.7 3076.0,331.6" fill="none" stroke="#141414" stroke-width="2.0" stroke-linejoin="miter"/>
<polygon points="3064.3,340.0 3072.2,344.7 3064.5,347.4" fill="none" stroke="#141414" stroke-width="2.0" stroke-linejoin="miter"/>
<polygon points="2896.9,751.8 2904.1,755.5 2897.9,760.6" fill="none" stroke="#141414" stroke-width="2.0" stroke-linejoin="miter"/>
<polygon points="2926.4,781.8 2918.1,784.2 2919.7,776.5" fill="none" stroke="#141414" stroke-width="2.0" stroke-linejoin="miter"/>
<polygon points="2914.4,854.3 2912.7,846.1 2919.4,847.9" fill="none" stroke="#141414" stroke-width="2.0" stroke-linejoin="miter"/>
<polygon points="2897.5,869.4 2888.7,870.6 2891.1,862.7" fill="none" stroke="#141414" stroke-width="2.0" stroke-linejoin="miter"/>
<polygon points="2912.0,896.9 2911.4,889.0 2919.0,891.1" fill="none" stroke="#141414" stroke-width="2.0" stroke-linejoin="miter"/>
<polygon points="2926.8,945.8 2926.0,936.8 2933.9,940.4" fill="none" stroke="#141414" stroke-width="2.0" stroke-linejoin="miter"/>
<polygon points="3213.6,608.6 3207.6,613.8 3205.2,607.2" fill="none" stroke="#141414" stroke-width="2.0" stroke-linejoin="miter"/>
<polygon points="3189.9,747.8 3197.8,751.4 3191.4,757.1" fill="none" stroke="#141414" stroke-width="2.0" stroke-linejoin="miter"/>
<polygon points="3188.0,958.3 3195.6,962.9 3188.0,966.0" fill="none" stroke="#141414" stroke-width="2.0" stroke-linejoin="miter"/>
<polygon points="3203.3,979.7 3202.8,971.8 3210.4,973.9" fill="none" stroke="#141414" stroke-width="2.0" stroke-linejoin="miter"/>
<polygon points="3501.3,577.9 3508.6,581.3 3501.9,585.4" fill="none" stroke="#141414" stroke-width="2.0" stroke-linejoin="miter"/>
<polygon points="3493.6,629.9 3497.7,638.1 3489.1,637.3" fill="none" stroke="#141414" stroke-width="2.0" stroke-linejoin="miter"/>
<polygon points="3482.1,717.3 3484.5,724.2 3477.6,723.4" fill="none" stroke="#141414" stroke-width="2.0" stroke-linejoin="miter"/>
<polygon points="3513.9,715.4 3517.9,723.1 3510.5,723.6" fill="none" stroke="#141414" stroke-width="2.0" stroke-linejoin="miter"/>
<polygon points="3491.7,813.9 3498.6,806.8 3501.7,814.4" fill="none" stroke="#141414" stroke-width="2.0" stroke-linejoin="miter"/>
<polygon points="3508.5,852.7 3511.6,858.9 3503.7,859.5" fill="none" stroke="#141414" stroke-width="2.0" stroke-linejoin="miter"/>
<polygon points="3514.4,896.7 3518.1,904.4 3510.2,904.3" fill="none" stroke="#141414" stroke-width="2.0" stroke-linejoin="miter"/>
<polygon points="3477.8,939.5 3482.0,946.4 3474.2,947.8" fill="none" stroke="#141414" stroke-width="2.0" stroke-linejoin="miter"/>
<polygon points="2931.3,1024.1 2935.2,1033.4 2926.8,1032.7" fill="none" stroke="#141414" stroke-width="2.0" stroke-linejoin="miter"/>
<polygon points="2952.5,1028.3 2948.1,1035.1 2945.0,1028.0" fill="none" stroke="#141414" stroke-width="2.0" stroke-linejoin="miter"/>
<polygon points="3032.1,1043.3 3030.2,1034.2 3038.1,1036.3" fill="none" stroke="#141414" stroke-width="2.0" stroke-linejoin="miter"/>
<polygon points="3002.9,1056.9 3002.7,1047.6 3011.0,1051.6" fill="none" stroke="#141414" stroke-width="2.0" stroke-linejoin="miter"/>
<polygon points="3051.9,1051.0 3058.9,1045.2 3061.5,1052.3" fill="none" stroke="#141414" stroke-width="2.0" stroke-linejoin="miter"/>
<polygon points="3120.4,1039.8 3123.1,1047.2 3115.8,1046.6" fill="none" stroke="#141414" stroke-width="2.0" stroke-linejoin="miter"/>
<polygon points="3177.2,1056.9 3181.5,1064.0 3174.5,1064.4" fill="none" stroke="#141414" stroke-width="2.0" stroke-linejoin="miter"/>
<polygon points="3203.0,1056.8 3202.3,1049.5 3208.9,1051.9" fill="none" stroke="#141414" stroke-width="2.0" stroke-linejoin="miter"/>
<polygon points="3185.7,1065.1 3189.9,1071.3 3182.5,1071.2" fill="none" stroke="#141414" stroke-width="2.0" stroke-linejoin="miter"/>
<polygon points="3274.8,1019.1 3282.3,1024.5 3274.3,1027.8" fill="none" stroke="#141414" stroke-width="2.0" stroke-linejoin="miter"/>
<polygon points="3288.1,1065.3 3287.1,1057.0 3294.7,1059.7" fill="none" stroke="#141414" stroke-width="2.0" stroke-linejoin="miter"/>
<polygon points="3354.6,1071.7 3345.4,1074.7 3347.0,1065.9" fill="none" stroke="#141414" stroke-width="2.0" stroke-linejoin="miter"/>
<polygon points="3381.2,1069.3 3373.3,1070.4 3374.6,1063.7" fill="none" stroke="#141414" stroke-width="2.0" stroke-linejoin="miter"/>
<polygon points="3311.8,1084.3 3316.1,1091.6 3308.2,1092.1" fill="none" stroke="#141414" stroke-width="2.0" stroke-linejoin="miter"/>
<polygon points="3455.0,1029.8 3449.3,1037.2 3445.4,1029.0" fill="none" stroke="#141414" stroke-width="2.0" stroke-linejoin="miter"/>
<polygon points="3462.7,1071.1 3465.3,1077.8 3458.5,1077.8" fill="none" stroke="#141414" stroke-width="2.0" stroke-linejoin="miter"/>
<polygon points="2906.4,1085.2 2909.6,1092.1 2901.0,1091.8" fill="none" stroke="#141414" stroke-width="2.0" stroke-linejoin="miter"/>
<polygon points="3073.6,1095.3 3081.4,1099.7 3075.0,1103.6" fill="none" stroke="#141414" stroke-width="2.0" stroke-linejoin="miter"/>
<polygon points="3241.9,1110.1 3248.4,1104.1 3251.8,1112.5" fill="none" stroke="#141414" stroke-width="2.0" stroke-linejoin="miter"/>
<polygon points="3439.9,1114.4 3437.6,1105.9 3445.3,1108.2" fill="none" stroke="#141414" stroke-width="2.0" stroke-linejoin="miter"/>
<polygon points="3512.8,1075.6 3519.6,1080.1 3512.7,1084.3" fill="none" stroke="#141414" stroke-width="2.0" stroke-linejoin="miter"/>
<text x="0" y="0" text-anchor="start" style="font-size:68.31px;" transform="translate(2907.0,1243.6) scale(0.9662,1)" textLength="610.6" lengthAdjust="spacingAndGlyphs">(d) Sectional view 2-2</text>
<path d="M221.0,2089.4L609.0,2206.4M221.0,2089.4L491.7,1932.7M254.8,2069.8L642.8,2186.8M269.5,2104.0L540.2,1947.3M288.7,2050.2L676.7,2167.2M318.0,2118.7L588.7,1962.0M322.5,2030.6L710.5,2147.6M366.5,2133.3L637.2,1976.6M356.4,2011.1L744.4,2128.1M415.0,2147.9L685.7,1991.2M390.2,1991.5L778.2,2108.5M463.5,2162.5L734.2,2005.8M424.0,1971.9L812.0,2088.9M512.0,2177.2L782.7,2020.5M457.9,1952.3L845.9,2069.3M560.5,2191.8L831.2,2035.1M491.7,1932.7L879.7,2049.7M609.0,2206.4L879.7,2049.7" stroke="#9aa653" stroke-width="2.3" fill="none"/>
<path d="M286.5,2051.6L596.9,2145.2M286.5,2051.6L503.1,1926.2M313.6,2035.9L624.0,2129.5M325.3,2063.3L541.9,1937.9M340.6,2020.3L651.0,2113.9M364.1,2075.0L580.7,1949.6M367.7,2004.6L678.1,2098.2M402.9,2086.7L619.5,1961.3M394.8,1988.9L705.2,2082.5M441.7,2098.4L658.3,1973.0M421.9,1973.2L732.2,2066.8M480.5,2110.1L697.1,1984.7M448.9,1957.6L759.3,2051.2M519.3,2121.8L735.9,1996.4M476.0,1941.9L786.4,2035.5M558.1,2133.5L774.7,2008.1M503.1,1926.2L813.5,2019.8M596.9,2145.2L813.5,2019.8" stroke="#9aa653" stroke-width="2.3" fill="none"/>
<path d="M208.8,1557.8L208.8,2081.0M213.4,1555.2L213.4,2078.4M246.9,1535.8L246.9,2058.9M280.5,1516.4L280.5,2039.5M314.1,1497.0L314.1,2020.1M347.6,1477.6L347.6,2000.7M381.2,1458.1L381.2,1981.3M414.8,1438.7L414.8,1961.9M448.3,1419.3L448.3,1942.5M481.9,1399.9L481.9,1923.1M486.4,1397.3L486.4,1920.5M205.5,1564.9L489.7,1400.6M205.5,1618.7L489.7,1454.3M205.5,1672.5L489.7,1508.1M205.5,1726.2L489.7,1561.9M205.5,1780.0L489.7,1615.6M205.5,1833.8L489.7,1669.4M205.5,1887.5L489.7,1723.2M205.5,1941.3L489.7,1777.0M205.5,1995.1L489.7,1830.7M205.5,2048.8L489.7,1884.5M231.0,1569.6L231.0,2093.8M235.6,1567.0L235.6,2091.2M269.1,1547.5L269.1,2071.8M302.7,1528.1L302.7,2052.4M336.2,1508.7L336.2,2033.0M369.8,1489.3L369.8,2013.5M403.4,1469.9L403.4,1994.1M436.9,1450.5L436.9,1974.7M470.5,1431.1L470.5,1955.3M504.0,1411.7L504.0,1935.9M508.6,1409.1L508.6,1933.3M227.6,1598.4L511.9,1434.1M227.6,1652.2L511.9,1487.8M227.6,1705.9L511.9,1541.6M227.6,1759.7L511.9,1595.4M227.6,1813.5L511.9,1649.1M227.6,1867.3L511.9,1702.9M227.6,1921.0L511.9,1756.7M227.6,1974.8L511.9,1810.4M227.6,2028.6L511.9,1864.2M227.6,2082.3L511.9,1918.0M486.4,1397.3L486.4,1920.5M508.6,1403.9L508.6,1927.1M556.3,1418.1L556.3,1941.3M604.1,1432.3L604.1,1955.5M651.8,1446.6L651.8,1969.7M699.6,1460.8L699.6,1984.0M747.4,1475.0L747.4,1998.2M795.1,1489.2L795.1,2012.4M842.9,1503.4L842.9,2026.6M890.6,1517.6L890.6,2040.8M912.8,1524.2L912.8,2047.4M481.3,1401.0L917.9,1530.9M481.3,1454.7L917.9,1584.7M481.3,1508.5L917.9,1638.5M481.3,1562.3L917.9,1692.2M481.3,1616.1L917.9,1746.0M481.3,1669.8L917.9,1799.8M481.3,1723.6L917.9,1853.5M481.3,1777.4L917.9,1907.3M481.3,1831.1L917.9,1961.1M481.3,1884.9L917.9,2014.8M479.5,1406.5L479.5,1929.7M501.6,1413.1L501.6,1936.3M549.4,1427.3L549.4,1950.5M597.1,1441.5L597.1,1964.7M644.9,1455.7L644.9,1978.9M692.7,1470.0L692.7,1993.1M740.4,1484.2L740.4,2007.4M788.2,1498.4L788.2,2021.6M835.9,1512.6L835.9,2035.8M883.7,1526.8L883.7,2050.0M905.9,1533.4L905.9,2056.6M474.3,1431.9L911.0,1561.8M474.3,1485.6L911.0,1615.6M474.3,1539.4L911.0,1669.4M474.3,1593.2L911.0,1723.1M474.3,1646.9L911.0,1776.9M474.3,1700.7L911.0,1830.7M474.3,1754.5L911.0,1884.4M474.3,1808.3L911.0,1938.2M474.3,1862.0L911.0,1992.0M474.3,1915.8L911.0,2045.7" stroke="#6e2016" stroke-width="2.2" fill="none" opacity="1"/>
<path d="M293.6,1517.7L293.6,2051.3M311.0,1522.9L311.0,2056.4M328.4,1528.1L328.4,2061.6M345.8,1533.3L345.8,2066.8M363.2,1538.5L363.2,2072.0M380.6,1543.6L380.6,2077.2M398.0,1548.8L398.0,2082.4M415.4,1554.0L415.4,2087.5M432.9,1559.2L432.9,2092.7M450.3,1564.4L450.3,2097.9M467.7,1569.5L467.7,2103.1M485.1,1574.7L485.1,2108.3M502.5,1579.9L502.5,2113.4M519.9,1585.1L519.9,2118.6M537.3,1590.3L537.3,2123.8M554.7,1595.5L554.7,2129.0M572.1,1600.6L572.1,2134.2M589.6,1605.8L589.6,2139.4M607.0,1611.0L607.0,2144.5M624.4,1616.2L624.4,2149.7M641.8,1621.4L641.8,2154.9M659.2,1626.5L659.2,2160.1M676.6,1631.7L676.6,2165.3M694.0,1636.9L694.0,2170.4M711.4,1642.1L711.4,2175.6M293.6,1528.1L711.4,1652.4M293.6,1555.0L711.4,1679.3M293.6,1581.9L711.4,1706.2M293.6,1608.7L711.4,1733.1M293.6,1635.6L711.4,1760.0M293.6,1662.5L711.4,1786.9M293.6,1689.4L711.4,1813.8M293.6,1716.3L711.4,1840.6M293.6,1743.2L711.4,1867.5M293.6,1770.0L711.4,1894.4M293.6,1796.9L711.4,1921.3M293.6,1823.8L711.4,1948.2M293.6,1850.7L711.4,1975.1M293.6,1877.6L711.4,2001.9M293.6,1904.5L711.4,2028.8M293.6,1931.3L711.4,2055.7M293.6,1958.2L711.4,2082.6M293.6,1985.1L711.4,2109.5M293.6,2012.0L711.4,2136.4M293.6,2038.9L711.4,2163.2M312.6,1511.2L312.6,2044.8M329.9,1516.4L329.9,2049.9M347.3,1521.6L347.3,2055.1M364.7,1526.7L364.7,2060.3M382.1,1531.9L382.1,2065.4M399.4,1537.1L399.4,2070.6M416.8,1542.2L416.8,2075.8M434.2,1547.4L434.2,2081.0M451.6,1552.6L451.6,2086.1M468.9,1557.8L468.9,2091.3M486.3,1562.9L486.3,2096.5M503.7,1568.1L503.7,2101.6M521.1,1573.3L521.1,2106.8M538.5,1578.4L538.5,2112.0M555.8,1583.6L555.8,2117.2M573.2,1588.8L573.2,2122.3M590.6,1594.0L590.6,2127.5M608.0,1599.1L608.0,2132.7M625.3,1604.3L625.3,2137.8M642.7,1609.5L642.7,2143.0M660.1,1614.6L660.1,2148.2M677.5,1619.8L677.5,2153.4M694.8,1625.0L694.8,2158.5M712.2,1630.2L712.2,2163.7M729.6,1635.3L729.6,2168.9M312.6,1531.9L729.6,1656.1M312.6,1558.8L729.6,1682.9M312.6,1585.7L729.6,1709.8M312.6,1612.6L729.6,1736.7M312.6,1639.5L729.6,1763.6M312.6,1666.4L729.6,1790.5M312.6,1693.2L729.6,1817.4M312.6,1720.1L729.6,1844.2M312.6,1747.0L729.6,1871.1M312.6,1773.9L729.6,1898.0M312.6,1800.8L729.6,1924.9M312.6,1827.7L729.6,1951.8M312.6,1854.6L729.6,1978.7M312.6,1881.4L729.6,2005.5M312.6,1908.3L729.6,2032.4M312.6,1935.2L729.6,2059.3M312.6,1962.1L729.6,2086.2M312.6,1989.0L729.6,2113.1M312.6,2015.9L729.6,2140.0M312.6,2042.7L729.6,2166.8" stroke="#683ad2" stroke-width="2.2" fill="none" opacity="1"/>
<path d="M414.8,1619.4L414.8,2155.6M424.2,1614.0L424.2,2150.1M433.6,1608.5L433.6,2144.7M443.0,1603.1L443.0,2139.2M452.4,1597.7L452.4,2133.8M461.9,1592.2L461.9,2128.3M471.3,1586.8L471.3,2122.9M480.7,1581.3L480.7,2117.4M490.1,1575.9L490.1,2112.0M499.5,1570.4L499.5,2106.6M508.9,1565.0L508.9,2101.1M518.4,1559.5L518.4,2095.7M527.8,1554.1L527.8,2090.2M537.2,1548.6L537.2,2084.8M546.6,1543.2L546.6,2079.3M556.0,1537.7L556.0,2073.9M565.5,1532.3L565.5,2068.4M574.9,1526.9L574.9,2063.0M584.3,1521.4L584.3,2057.5M593.7,1516.0L593.7,2052.1M603.1,1510.5L603.1,2046.7M612.5,1505.1L612.5,2041.2M622.0,1499.6L622.0,2035.8M631.4,1494.2L631.4,2030.3M640.8,1488.7L640.8,2024.9M650.2,1483.3L650.2,2019.4M659.6,1477.8L659.6,2014.0M669.1,1472.4L669.1,2008.5M678.5,1467.0L678.5,2003.1M414.8,1629.8L678.5,1477.3M414.8,1656.7L678.5,1504.2M414.8,1683.6L678.5,1531.1M414.8,1710.4L678.5,1558.0M414.8,1737.3L678.5,1584.9M414.8,1764.2L678.5,1611.7M414.8,1791.1L678.5,1638.6M414.8,1818.0L678.5,1665.5M414.8,1844.9L678.5,1692.4M414.8,1871.8L678.5,1719.3M414.8,1898.6L678.5,1746.2M414.8,1925.5L678.5,1773.0M414.8,1952.4L678.5,1799.9M414.8,1979.3L678.5,1826.8M414.8,2006.2L678.5,1853.7M414.8,2033.1L678.5,1880.6M414.8,2059.9L678.5,1907.5M414.8,2086.8L678.5,1934.3M414.8,2113.7L678.5,1961.2M414.8,2140.6L678.5,1988.1M444.5,1624.6L444.5,2160.8M453.9,1619.2L453.9,2155.3M463.3,1613.7L463.3,2149.9M472.8,1608.3L472.8,2144.4M482.2,1602.9L482.2,2139.0M491.6,1597.4L491.6,2133.5M501.0,1592.0L501.0,2128.1M510.4,1586.5L510.4,2122.7M519.9,1581.1L519.9,2117.2M529.3,1575.6L529.3,2111.8M538.7,1570.2L538.7,2106.3M548.1,1564.7L548.1,2100.9M557.5,1559.3L557.5,2095.4M566.9,1553.8L566.9,2090.0M576.4,1548.4L576.4,2084.5M585.8,1543.0L585.8,2079.1M595.2,1537.5L595.2,2073.6M604.6,1532.1L604.6,2068.2M614.0,1526.6L614.0,2062.7M623.5,1521.2L623.5,2057.3M632.9,1515.7L632.9,2051.9M642.3,1510.3L642.3,2046.4M651.7,1504.8L651.7,2041.0M661.1,1499.4L661.1,2035.5M670.6,1493.9L670.6,2030.1M680.0,1488.5L680.0,2024.6M689.4,1483.1L689.4,2019.2M698.8,1477.6L698.8,2013.7M708.2,1472.2L708.2,2008.3M444.5,1645.4L708.2,1492.9M444.5,1672.2L708.2,1519.8M444.5,1699.1L708.2,1546.7M444.5,1726.0L708.2,1573.5M444.5,1752.9L708.2,1600.4M444.5,1779.8L708.2,1627.3M444.5,1806.7L708.2,1654.2M444.5,1833.5L708.2,1681.1M444.5,1860.4L708.2,1708.0M444.5,1887.3L708.2,1734.8M444.5,1914.2L708.2,1761.7M444.5,1941.1L708.2,1788.6M444.5,1968.0L708.2,1815.5M444.5,1994.9L708.2,1842.4M444.5,2021.7L708.2,1869.3M444.5,2048.6L708.2,1896.1M444.5,2075.5L708.2,1923.0M444.5,2102.4L708.2,1949.9M444.5,2129.3L708.2,1976.8M444.5,2156.2L708.2,2003.7" stroke="#683ad2" stroke-width="2.2" fill="none" opacity="1"/>
<path d="M430.3,1626.8L430.3,2155.2M438.5,1622.1L438.5,2150.4M446.7,1617.3L446.7,2145.7M454.9,1612.6L454.9,2141.0M463.1,1607.9L463.1,2136.2M471.3,1603.1L471.3,2131.5M479.5,1598.4L479.5,2126.8M487.7,1593.7L487.7,2122.0M495.8,1588.9L495.8,2117.3M504.0,1584.2L504.0,2112.6M512.2,1579.5L512.2,2107.8M520.4,1574.7L520.4,2103.1M528.6,1570.0L528.6,2098.4M536.8,1565.3L536.8,2093.6M545.0,1560.5L545.0,2088.9M553.2,1555.8L553.2,2084.2M561.4,1551.1L561.4,2079.4M569.5,1546.3L569.5,2074.7M577.7,1541.6L577.7,2069.9M585.9,1536.9L585.9,2065.2M594.1,1532.1L594.1,2060.5" stroke="#7a48ee" stroke-width="2.0" fill="none" opacity="1"/>
<path d="M635.2,1684.7L635.2,2207.9M639.8,1682.1L639.8,2205.3M673.3,1662.7L673.3,2185.8M706.9,1643.3L706.9,2166.4M740.5,1623.9L740.5,2147.0M774.0,1604.5L774.0,2127.6M807.6,1585.0L807.6,2108.2M841.2,1565.6L841.2,2088.8M874.7,1546.2L874.7,2069.4M908.3,1526.8L908.3,2050.0M912.8,1524.2L912.8,2047.4M631.9,1691.8L916.1,1527.5M631.9,1745.6L916.1,1581.2M631.9,1799.4L916.1,1635.0M631.9,1853.1L916.1,1688.8M631.9,1906.9L916.1,1742.5M631.9,1960.7L916.1,1796.3M631.9,2014.4L916.1,1850.1M631.9,2068.2L916.1,1903.9M631.9,2122.0L916.1,1957.6M631.9,2175.7L916.1,2011.4M613.0,1683.3L613.0,2207.5M617.6,1680.7L617.6,2204.9M651.2,1661.2L651.2,2185.5M684.7,1641.8L684.7,2166.1M718.3,1622.4L718.3,2146.7M751.9,1603.0L751.9,2127.3M785.4,1583.6L785.4,2107.8M819.0,1564.2L819.0,2088.4M852.5,1544.8L852.5,2069.0M886.1,1525.4L886.1,2049.6M890.6,1522.8L890.6,2047.0M609.7,1712.1L894.0,1547.8M609.7,1765.9L894.0,1601.5M609.7,1819.6L894.0,1655.3M609.7,1873.4L894.0,1709.1M609.7,1927.2L894.0,1762.8M609.7,1981.0L894.0,1816.6M609.7,2034.7L894.0,1870.4M609.7,2088.5L894.0,1924.1M609.7,2142.3L894.0,1977.9M609.7,2196.0L894.0,2031.7" stroke="#6e2016" stroke-width="2.3" fill="none" opacity="1"/>
<path d="M295.1,1550.7L605.5,1644.3M295.1,1550.7L511.7,1425.3M322.2,1535.0L632.6,1628.6M333.9,1562.4L550.5,1437.0M349.2,1519.4L659.6,1613.0M372.7,1574.1L589.3,1448.7M376.3,1503.7L686.7,1597.3M411.5,1585.8L628.1,1460.4M403.4,1488.0L713.8,1581.6M450.3,1597.5L666.9,1472.1M430.5,1472.4L740.9,1566.0M489.1,1609.2L705.7,1483.8M457.5,1456.7L767.9,1550.3M527.9,1620.9L744.5,1495.5M484.6,1441.0L795.0,1534.6M566.7,1632.6L783.3,1507.2M511.7,1425.3L822.1,1518.9M605.5,1644.3L822.1,1518.9" stroke="#9aa653" stroke-width="2.3" fill="none"/>
<path d="M229.6,1520.5L617.6,1637.5M229.6,1520.5L500.3,1363.8M263.4,1500.9L651.4,1617.9M278.1,1535.1L548.8,1378.4M297.3,1481.3L685.3,1598.3M326.6,1549.8L597.3,1393.0M331.1,1461.7L719.1,1578.7M375.1,1564.4L645.8,1407.7M364.9,1442.2L753.0,1559.2M423.6,1579.0L694.3,1422.3M398.8,1422.6L786.8,1539.6M472.1,1593.6L742.8,1436.9M432.6,1403.0L820.6,1520.0M520.6,1608.2L791.3,1451.5M466.5,1383.4L854.5,1500.4M569.1,1622.9L839.8,1466.2M500.3,1363.8L888.3,1480.8M617.6,1637.5L888.3,1480.8" stroke="#9aa653" stroke-width="2.3" fill="none"/>
<text x="0" y="0" text-anchor="start" style="font-size:68.31px;" transform="translate(363.6,2354.7) scale(0.9662,1)" textLength="389.2" lengthAdjust="spacingAndGlyphs">(e) Steel EFM</text>
<line x1="2046.6" y1="1296.6" x2="2046.6" y2="1358.0" stroke="#141414" stroke-width="2.4" />
<line x1="2046.6" y1="1379.0" x2="2046.6" y2="2086.4" stroke="#141414" stroke-width="2.4" stroke-dasharray="49 21.8"/>
<line x1="2046.6" y1="2086.4" x2="2046.6" y2="2288.5" stroke="#141414" stroke-width="2.4" />
<line x1="2046.6" y1="1324.9" x2="2638.5" y2="1324.9" stroke="#141414" stroke-width="2.4" />
<line x1="2046.6" y1="1348.8" x2="2638.5" y2="1348.8" stroke="#141414" stroke-width="2.4" />
<line x1="2638.5" y1="1323.7" x2="2638.5" y2="2186.8" stroke="#141414" stroke-width="2.4" />
<line x1="2590.4" y1="1348.8" x2="2590.4" y2="2086.4" stroke="#141414" stroke-width="2.4" />
<line x1="2046.6" y1="1478.4" x2="2590.4" y2="1478.4" stroke="#141414" stroke-width="2.4" />
<line x1="2046.6" y1="1501.6" x2="2590.4" y2="1501.6" stroke="#141414" stroke-width="2.4" />
<line x1="2217.2" y1="1501.6" x2="2217.2" y2="2086.4" stroke="#141414" stroke-width="2.4" />
<line x1="2249.0" y1="1501.6" x2="2249.0" y2="2086.4" stroke="#141414" stroke-width="2.4" />
<line x1="2046.6" y1="2086.4" x2="2218.4" y2="2086.4" stroke="#141414" stroke-width="2.4" />
<line x1="2247.8" y1="2086.4" x2="2591.6" y2="2086.4" stroke="#141414" stroke-width="2.4" />
<line x1="2046.6" y1="2185.6" x2="2639.7" y2="2185.6" stroke="#141414" stroke-width="2.4" />
<line x1="2318.2" y1="1435.2" x2="2318.2" y2="1467.4" stroke="#141414" stroke-width="2" />
<polygon points="2318.2,1478.4 2313.8,1465.4 2322.6,1465.4" fill="#141414" stroke="none" stroke-width="0" />
<line x1="2710.4" y1="1324.9" x2="2710.4" y2="2185.6" stroke="#41425b" stroke-width="2.2" />
<line x1="2657.8" y1="1324.9" x2="2720.9" y2="1324.9" stroke="#41425b" stroke-width="2.2" />
<line x1="2705.9" y1="1320.4" x2="2714.9" y2="1329.4" stroke="#41425b" stroke-width="2" />
<line x1="2657.8" y1="1348.8" x2="2720.9" y2="1348.8" stroke="#41425b" stroke-width="2.2" />
<line x1="2705.9" y1="1344.3" x2="2714.9" y2="1353.3" stroke="#41425b" stroke-width="2" />
<line x1="2657.8" y1="1478.4" x2="2720.9" y2="1478.4" stroke="#41425b" stroke-width="2.2" />
<line x1="2705.9" y1="1473.9" x2="2714.9" y2="1482.9" stroke="#41425b" stroke-width="2" />
<line x1="2657.8" y1="1501.6" x2="2720.9" y2="1501.6" stroke="#41425b" stroke-width="2.2" />
<line x1="2705.9" y1="1497.1" x2="2714.9" y2="1506.1" stroke="#41425b" stroke-width="2" />
<line x1="2657.8" y1="2086.4" x2="2720.9" y2="2086.4" stroke="#41425b" stroke-width="2.2" />
<line x1="2705.9" y1="2081.9" x2="2714.9" y2="2090.9" stroke="#41425b" stroke-width="2" />
<line x1="2657.8" y1="2185.6" x2="2720.9" y2="2185.6" stroke="#41425b" stroke-width="2.2" />
<line x1="2705.9" y1="2181.1" x2="2714.9" y2="2190.1" stroke="#41425b" stroke-width="2" />
<text x="0" y="0" text-anchor="middle" style="font-size:68.31px;" transform="translate(2704.0,1337.0) rotate(-90) scale(0.8213,1)">6</text>
<text x="0" y="0" text-anchor="middle" style="font-size:68.31px;" transform="translate(2704.0,1411.0) rotate(-90) scale(0.9662,1)">33</text>
<text x="0" y="0" text-anchor="middle" style="font-size:68.31px;" transform="translate(2704.0,1490.0) rotate(-90) scale(0.8213,1)">6</text>
<text x="0" y="0" text-anchor="middle" style="font-size:68.31px;" transform="translate(2703.0,1783.0) rotate(-90) scale(0.9662,1)">149</text>
<text x="0" y="0" text-anchor="middle" style="font-size:68.31px;" transform="translate(2703.0,2136.0) rotate(-90) scale(0.9662,1)">25</text>
<line x1="2046.6" y1="2255.0" x2="2638.2" y2="2255.0" stroke="#41425b" stroke-width="2.2" />
<line x1="2046.6" y1="2203.0" x2="2046.6" y2="2267.3" stroke="#41425b" stroke-width="2.2" />
<line x1="2042.1" y1="2259.5" x2="2051.1" y2="2250.5" stroke="#41425b" stroke-width="2" />
<line x1="2217.5" y1="2203.0" x2="2217.5" y2="2267.3" stroke="#41425b" stroke-width="2.2" />
<line x1="2213.0" y1="2259.5" x2="2222.0" y2="2250.5" stroke="#41425b" stroke-width="2" />
<line x1="2248.8" y1="2203.0" x2="2248.8" y2="2267.3" stroke="#41425b" stroke-width="2.2" />
<line x1="2244.3" y1="2259.5" x2="2253.3" y2="2250.5" stroke="#41425b" stroke-width="2" />
<line x1="2590.6" y1="2203.0" x2="2590.6" y2="2267.3" stroke="#41425b" stroke-width="2.2" />
<line x1="2586.1" y1="2259.5" x2="2595.1" y2="2250.5" stroke="#41425b" stroke-width="2" />
<line x1="2638.2" y1="2203.0" x2="2638.2" y2="2267.3" stroke="#41425b" stroke-width="2.2" />
<line x1="2633.7" y1="2259.5" x2="2642.7" y2="2250.5" stroke="#41425b" stroke-width="2" />
<text x="0" y="0" text-anchor="middle" style="font-size:68.31px;" transform="translate(2135.5,2249.0) scale(0.9662,1)">43</text>
<text x="0" y="0" text-anchor="middle" style="font-size:68.31px;" transform="translate(2233.0,2249.0) scale(0.9662,1)" textLength="27.9" lengthAdjust="spacingAndGlyphs">8</text>
<text x="0" y="0" text-anchor="middle" style="font-size:68.31px;" transform="translate(2424.0,2249.0) scale(0.9662,1)">86</text>
<text x="0" y="0" text-anchor="middle" style="font-size:68.31px;" transform="translate(2617.0,2249.0) scale(0.9662,1)" textLength="56.9" lengthAdjust="spacingAndGlyphs">12</text>
<use href="#dry" x="2101.3" y="1396.3"/>
<use href="#dry" x="2478.4" y="1434.5"/>
<use href="#sat" x="2137.9" y="1645.5"/>
<use href="#sat" x="2440.2" y="1639.8"/>
<use href="#sat" x="2137.4" y="1967.3"/>
<use href="#sat" x="2440.2" y="1961.2"/>
<polygon points="2111.2,1327.1 2115.5,1335.2 2108.3,1334.9" fill="none" stroke="#141414" stroke-width="2.0" stroke-linejoin="miter"/>
<polygon points="2158.4,1329.4 2162.6,1335.2 2155.1,1335.5" fill="none" stroke="#141414" stroke-width="2.0" stroke-linejoin="miter"/>
<polygon points="2287.1,1336.3 2290.0,1344.4 2282.2,1343.5" fill="none" stroke="#141414" stroke-width="2.0" stroke-linejoin="miter"/>
<polygon points="2593.4,1333.0 2599.6,1326.2 2601.4,1333.6" fill="none" stroke="#141414" stroke-width="2.0" stroke-linejoin="miter"/>
<polygon points="2630.0,1366.2 2627.0,1357.1 2636.2,1359.9" fill="none" stroke="#141414" stroke-width="2.0" stroke-linejoin="miter"/>
<polygon points="2614.7,1414.4 2619.6,1421.1 2611.7,1422.6" fill="none" stroke="#141414" stroke-width="2.0" stroke-linejoin="miter"/>
<polygon points="2604.2,1441.9 2608.2,1448.9 2600.2,1449.8" fill="none" stroke="#141414" stroke-width="2.0" stroke-linejoin="miter"/>
<polygon points="2627.0,1505.9 2634.0,1510.1 2628.1,1512.9" fill="none" stroke="#141414" stroke-width="2.0" stroke-linejoin="miter"/>
<polygon points="2283.0,1477.9 2287.8,1485.7 2279.6,1484.5" fill="none" stroke="#141414" stroke-width="2.0" stroke-linejoin="miter"/>
<polygon points="2308.9,1489.9 2301.7,1493.6 2302.2,1486.1" fill="none" stroke="#141414" stroke-width="2.0" stroke-linejoin="miter"/>
<polygon points="2376.1,1484.8 2370.6,1491.5 2367.5,1484.5" fill="none" stroke="#141414" stroke-width="2.0" stroke-linejoin="miter"/>
<polygon points="2459.5,1489.2 2462.8,1495.8 2454.9,1497.4" fill="none" stroke="#141414" stroke-width="2.0" stroke-linejoin="miter"/>
<polygon points="2507.5,1484.1 2502.0,1490.9 2498.5,1482.9" fill="none" stroke="#141414" stroke-width="2.0" stroke-linejoin="miter"/>
<polygon points="2540.9,1498.6 2547.5,1491.9 2549.9,1500.9" fill="none" stroke="#141414" stroke-width="2.0" stroke-linejoin="miter"/>
<polygon points="2232.3,1516.3 2223.1,1518.0 2224.9,1510.4" fill="none" stroke="#141414" stroke-width="2.0" stroke-linejoin="miter"/>
<polygon points="2231.3,1646.1 2236.2,1654.3 2227.6,1655.4" fill="none" stroke="#141414" stroke-width="2.0" stroke-linejoin="miter"/>
<polygon points="2238.9,1731.0 2243.3,1738.3 2236.3,1738.3" fill="none" stroke="#141414" stroke-width="2.0" stroke-linejoin="miter"/>
<polygon points="2243.2,1737.7 2247.4,1745.2 2240.0,1744.1" fill="none" stroke="#141414" stroke-width="2.0" stroke-linejoin="miter"/>
<polygon points="2622.9,1670.0 2613.5,1672.4 2614.5,1664.2" fill="none" stroke="#141414" stroke-width="2.0" stroke-linejoin="miter"/>
<polygon points="2596.5,1766.8 2601.1,1773.0 2593.4,1774.1" fill="none" stroke="#141414" stroke-width="2.0" stroke-linejoin="miter"/>
<polygon points="2595.8,1807.8 2594.8,1798.7 2601.5,1801.5" fill="none" stroke="#141414" stroke-width="2.0" stroke-linejoin="miter"/>
<polygon points="2611.5,1856.5 2616.7,1863.7 2608.6,1864.0" fill="none" stroke="#141414" stroke-width="2.0" stroke-linejoin="miter"/>
<polygon points="2636.3,1888.5 2629.9,1895.6 2627.1,1888.4" fill="none" stroke="#141414" stroke-width="2.0" stroke-linejoin="miter"/>
<polygon points="2609.6,1933.4 2613.6,1939.3 2606.8,1940.7" fill="none" stroke="#141414" stroke-width="2.0" stroke-linejoin="miter"/>
<polygon points="2633.8,1949.3 2627.6,1956.2 2626.2,1948.4" fill="none" stroke="#141414" stroke-width="2.0" stroke-linejoin="miter"/>
<polygon points="2596.9,1978.7 2602.7,1973.3 2604.9,1980.3" fill="none" stroke="#141414" stroke-width="2.0" stroke-linejoin="miter"/>
<polygon points="2625.0,2069.1 2629.6,2077.0 2621.7,2075.8" fill="none" stroke="#141414" stroke-width="2.0" stroke-linejoin="miter"/>
<polygon points="2217.9,1880.6 2225.2,1874.1 2228.0,1881.8" fill="none" stroke="#141414" stroke-width="2.0" stroke-linejoin="miter"/>
<polygon points="2239.8,2009.8 2243.2,2017.9 2234.4,2017.0" fill="none" stroke="#141414" stroke-width="2.0" stroke-linejoin="miter"/>
<polygon points="2229.5,2042.5 2224.5,2050.6 2220.6,2041.8" fill="none" stroke="#141414" stroke-width="2.0" stroke-linejoin="miter"/>
<polygon points="2224.4,2095.4 2229.7,2090.5 2231.9,2097.3" fill="none" stroke="#141414" stroke-width="2.0" stroke-linejoin="miter"/>
<polygon points="2301.5,2091.3 2296.2,2098.5 2292.5,2089.5" fill="none" stroke="#141414" stroke-width="2.0" stroke-linejoin="miter"/>
<polygon points="2315.4,2095.7 2319.9,2103.2 2310.3,2103.6" fill="none" stroke="#141414" stroke-width="2.0" stroke-linejoin="miter"/>
<polygon points="2403.2,2103.6 2406.6,2110.7 2398.2,2110.7" fill="none" stroke="#141414" stroke-width="2.0" stroke-linejoin="miter"/>
<polygon points="2467.8,2098.5 2474.6,2102.5 2468.2,2106.5" fill="none" stroke="#141414" stroke-width="2.0" stroke-linejoin="miter"/>
<polygon points="2494.6,2118.6 2485.5,2120.7 2487.5,2111.9" fill="none" stroke="#141414" stroke-width="2.0" stroke-linejoin="miter"/>
<polygon points="2575.7,2119.7 2579.4,2126.4 2572.3,2125.9" fill="none" stroke="#141414" stroke-width="2.0" stroke-linejoin="miter"/>
<polygon points="2540.8,2145.6 2546.5,2152.6 2537.9,2153.9" fill="none" stroke="#141414" stroke-width="2.0" stroke-linejoin="miter"/>
<polygon points="2369.2,2135.5 2373.0,2144.2 2364.4,2144.3" fill="none" stroke="#141414" stroke-width="2.0" stroke-linejoin="miter"/>
<polygon points="2389.6,2172.3 2381.0,2175.2 2381.7,2167.1" fill="none" stroke="#141414" stroke-width="2.0" stroke-linejoin="miter"/>
<polygon points="2259.9,2149.2 2254.9,2156.4 2251.1,2148.4" fill="none" stroke="#141414" stroke-width="2.0" stroke-linejoin="miter"/>
<polygon points="2191.7,2127.1 2199.7,2131.1 2192.0,2134.5" fill="none" stroke="#141414" stroke-width="2.0" stroke-linejoin="miter"/>
<polygon points="2122.2,2133.5 2128.4,2126.8 2130.7,2133.6" fill="none" stroke="#141414" stroke-width="2.0" stroke-linejoin="miter"/>
<polygon points="2071.6,2163.8 2076.6,2171.8 2067.8,2170.9" fill="none" stroke="#141414" stroke-width="2.0" stroke-linejoin="miter"/>
<polygon points="2098.1,2172.2 2090.4,2173.7 2091.6,2166.7" fill="none" stroke="#141414" stroke-width="2.0" stroke-linejoin="miter"/>
<polygon points="2154.1,2179.4 2158.3,2172.1 2162.0,2179.7" fill="none" stroke="#141414" stroke-width="2.0" stroke-linejoin="miter"/>
<polygon points="2262.3,2180.9 2267.1,2174.1 2270.7,2181.4" fill="none" stroke="#141414" stroke-width="2.0" stroke-linejoin="miter"/>
<text x="0" y="0" text-anchor="start" style="font-size:68.31px;" transform="translate(2049.6,2355.5) scale(0.9662,1)" textLength="607.0" lengthAdjust="spacingAndGlyphs">(g) Sectional view 1-1</text>
<line x1="2870.0" y1="1440.7" x2="3510.0" y2="1440.7" stroke="#141414" stroke-width="2.4" />
<line x1="2870.0" y1="1439.5" x2="2870.0" y2="2048.8" stroke="#141414" stroke-width="2.4" />
<line x1="3510.0" y1="1439.5" x2="3510.0" y2="2048.8" stroke="#141414" stroke-width="2.4" />
<rect x="2918.0" y="1489.3" width="256.8" height="351.5" fill="none" stroke="#141414" stroke-width="2.4"/>
<rect x="3206.2" y="1489.3" width="256.8" height="351.5" fill="none" stroke="#141414" stroke-width="2.4"/>
<line x1="2918.0" y1="1874.0" x2="3174.8" y2="1874.0" stroke="#141414" stroke-width="2.4" />
<line x1="2918.0" y1="1872.8" x2="2918.0" y2="2048.8" stroke="#141414" stroke-width="2.4" />
<line x1="3174.8" y1="1872.8" x2="3174.8" y2="2048.8" stroke="#141414" stroke-width="2.4" />
<line x1="3206.2" y1="1874.0" x2="3463.0" y2="1874.0" stroke="#141414" stroke-width="2.4" />
<line x1="3206.2" y1="1872.8" x2="3206.2" y2="2048.8" stroke="#141414" stroke-width="2.4" />
<line x1="3463.0" y1="1872.8" x2="3463.0" y2="2048.8" stroke="#141414" stroke-width="2.4" />
<line x1="2846.3" y1="2048.8" x2="2895.5" y2="2048.8" stroke="#141414" stroke-width="2.4" />
<line x1="2918.0" y1="2048.8" x2="2967.0" y2="2048.8" stroke="#141414" stroke-width="2.4" />
<line x1="2988.8" y1="2048.8" x2="3037.8" y2="2048.8" stroke="#141414" stroke-width="2.4" />
<line x1="3059.4" y1="2048.8" x2="3108.4" y2="2048.8" stroke="#141414" stroke-width="2.4" />
<line x1="3130.6" y1="2048.8" x2="3179.6" y2="2048.8" stroke="#141414" stroke-width="2.4" />
<line x1="3201.9" y1="2048.8" x2="3264.0" y2="2048.8" stroke="#141414" stroke-width="2.4" />
<line x1="3272.4" y1="2048.8" x2="3321.4" y2="2048.8" stroke="#141414" stroke-width="2.4" />
<line x1="3343.3" y1="2048.8" x2="3392.3" y2="2048.8" stroke="#141414" stroke-width="2.4" />
<line x1="3413.9" y1="2048.8" x2="3463.0" y2="2048.8" stroke="#141414" stroke-width="2.4" />
<line x1="3485.0" y1="2048.8" x2="3534.5" y2="2048.8" stroke="#141414" stroke-width="2.4" />
<line x1="3554.5" y1="2048.8" x2="3598.4" y2="2048.8" stroke="#141414" stroke-width="2.4" />
<line x1="3582.3" y1="1440.7" x2="3582.3" y2="2048.8" stroke="#41425b" stroke-width="2.2" />
<line x1="3527.7" y1="1440.7" x2="3592.5" y2="1440.7" stroke="#41425b" stroke-width="2.2" />
<line x1="3527.7" y1="1489.3" x2="3592.5" y2="1489.3" stroke="#41425b" stroke-width="2.2" />
<line x1="3527.7" y1="1840.8" x2="3592.5" y2="1840.8" stroke="#41425b" stroke-width="2.2" />
<line x1="3527.7" y1="1874.0" x2="3592.5" y2="1874.0" stroke="#41425b" stroke-width="2.2" />
<line x1="3577.8" y1="1436.2" x2="3586.8" y2="1445.2" stroke="#41425b" stroke-width="2" />
<line x1="3577.8" y1="1484.8" x2="3586.8" y2="1493.8" stroke="#41425b" stroke-width="2" />
<line x1="3577.8" y1="1836.3" x2="3586.8" y2="1845.3" stroke="#41425b" stroke-width="2" />
<line x1="3577.8" y1="1869.5" x2="3586.8" y2="1878.5" stroke="#41425b" stroke-width="2" />
<line x1="3577.8" y1="2044.3" x2="3586.8" y2="2053.3" stroke="#41425b" stroke-width="2" />
<text x="0" y="0" text-anchor="middle" style="font-size:68.31px;" transform="translate(3574.0,1465.0) rotate(-90) scale(0.9662,1)" textLength="52.8" lengthAdjust="spacingAndGlyphs">12</text>
<text x="0" y="0" text-anchor="middle" style="font-size:68.31px;" transform="translate(3574.0,1657.0) rotate(-90) scale(0.9662,1)">86</text>
<text x="0" y="0" text-anchor="middle" style="font-size:68.31px;" transform="translate(3574.0,1857.5) rotate(-90) scale(0.9662,1)" textLength="30.0" lengthAdjust="spacingAndGlyphs">8</text>
<text x="0" y="0" text-anchor="middle" style="font-size:68.31px;" transform="translate(3574.0,1948.0) rotate(-90) scale(0.9662,1)">43</text>
<use href="#sat" x="2999.5" y="1587.3"/>
<use href="#sat" x="3093.8" y="1747.8"/>
<use href="#sat" x="3287.2" y="1587.3"/>
<use href="#sat" x="3381.1" y="1747.8"/>
<use href="#sat" x="2999.5" y="1918.0"/>
<use href="#sat" x="3093.8" y="2003.6"/>
<use href="#sat" x="3287.2" y="1918.0"/>
<use href="#sat" x="3381.1" y="2003.6"/>
<text x="0" y="0" text-anchor="start" style="font-size:68.31px;" transform="translate(2942.6,1652.0) scale(0.9662,1)" textLength="218.8" lengthAdjust="spacingAndGlyphs">Vertical</text>
<text x="0" y="0" text-anchor="start" style="font-size:68.31px;" transform="translate(2938.0,1701.6) scale(0.9662,1)" textLength="231.2" lengthAdjust="spacingAndGlyphs">partition</text>
<text x="0" y="0" text-anchor="start" style="font-size:58.99px;" transform="translate(3208.5,1653.5) scale(0.9662,1)" textLength="261.3" lengthAdjust="spacingAndGlyphs">Transverse</text>
<text x="0" y="0" text-anchor="start" style="font-size:58.99px;" transform="translate(3236.3,1703.0) scale(0.9662,1)" textLength="203.5" lengthAdjust="spacingAndGlyphs">partition</text>
<line x1="3045.7" y1="1721.5" x2="3045.7" y2="1824.8" stroke="#141414" stroke-width="2" />
<polygon points="3045.7,1840.8 3040.2,1822.8 3051.2,1822.8" fill="#141414" stroke="none" stroke-width="0" />
<line x1="3275.6" y1="1665.0" x2="3222.6" y2="1665.0" stroke="#141414" stroke-width="2" />
<polygon points="3207.6,1665.0 3224.6,1660.2 3224.6,1669.8" fill="#141414" stroke="none" stroke-width="0" />
<polygon points="2876.2,1442.4 2879.9,1449.0 2871.3,1449.5" fill="none" stroke="#141414" stroke-width="1.9" stroke-linejoin="miter"/>
<polygon points="3001.4,1438.5 3004.7,1445.4 2997.0,1446.7" fill="none" stroke="#141414" stroke-width="1.9" stroke-linejoin="miter"/>
<polygon points="3053.4,1459.1 3045.0,1463.2 3045.6,1453.9" fill="none" stroke="#141414" stroke-width="1.9" stroke-linejoin="miter"/>
<polygon points="3086.6,1441.7 3091.2,1449.5 3082.9,1450.0" fill="none" stroke="#141414" stroke-width="1.9" stroke-linejoin="miter"/>
<polygon points="3178.5,1455.5 3170.9,1458.2 3172.2,1451.8" fill="none" stroke="#141414" stroke-width="1.9" stroke-linejoin="miter"/>
<polygon points="3224.9,1467.8 3219.5,1472.8 3216.6,1466.0" fill="none" stroke="#141414" stroke-width="1.9" stroke-linejoin="miter"/>
<polygon points="3254.3,1463.4 3260.8,1458.0 3262.8,1465.6" fill="none" stroke="#141414" stroke-width="1.9" stroke-linejoin="miter"/>
<polygon points="3350.4,1469.4 3345.1,1475.7 3341.6,1467.3" fill="none" stroke="#141414" stroke-width="1.9" stroke-linejoin="miter"/>
<polygon points="3393.9,1473.4 3397.8,1480.5 3390.1,1481.6" fill="none" stroke="#141414" stroke-width="1.9" stroke-linejoin="miter"/>
<polygon points="3431.2,1473.1 3436.3,1480.9 3428.0,1481.4" fill="none" stroke="#141414" stroke-width="1.9" stroke-linejoin="miter"/>
<polygon points="2970.0,1487.2 2962.2,1490.3 2963.2,1482.2" fill="none" stroke="#141414" stroke-width="1.9" stroke-linejoin="miter"/>
<polygon points="3461.1,1531.5 3467.4,1523.5 3470.7,1531.2" fill="none" stroke="#141414" stroke-width="1.9" stroke-linejoin="miter"/>
<polygon points="3474.1,1567.7 3481.7,1572.4 3474.6,1576.9" fill="none" stroke="#141414" stroke-width="1.9" stroke-linejoin="miter"/>
<polygon points="3185.4,1550.5 3190.2,1543.4 3194.0,1550.3" fill="none" stroke="#141414" stroke-width="1.9" stroke-linejoin="miter"/>
<polygon points="3191.0,1554.4 3195.5,1561.7 3187.1,1561.4" fill="none" stroke="#141414" stroke-width="1.9" stroke-linejoin="miter"/>
<polygon points="2916.2,1583.8 2919.5,1590.7 2912.0,1591.0" fill="none" stroke="#141414" stroke-width="1.9" stroke-linejoin="miter"/>
<polygon points="3209.0,1640.6 3203.4,1647.7 3199.6,1640.4" fill="none" stroke="#141414" stroke-width="1.9" stroke-linejoin="miter"/>
<polygon points="2887.5,1684.0 2885.5,1675.4 2893.1,1678.3" fill="none" stroke="#141414" stroke-width="1.9" stroke-linejoin="miter"/>
<polygon points="2877.3,1700.4 2881.8,1707.1 2874.1,1707.6" fill="none" stroke="#141414" stroke-width="1.9" stroke-linejoin="miter"/>
<polygon points="3461.1,1666.8 3467.7,1661.6 3469.2,1669.5" fill="none" stroke="#141414" stroke-width="1.9" stroke-linejoin="miter"/>
<polygon points="3505.1,1663.8 3509.3,1670.6 3502.2,1669.7" fill="none" stroke="#141414" stroke-width="1.9" stroke-linejoin="miter"/>
<polygon points="3489.5,1710.6 3497.6,1714.3 3490.0,1718.0" fill="none" stroke="#141414" stroke-width="1.9" stroke-linejoin="miter"/>
<polygon points="3478.7,1754.7 3485.4,1759.4 3478.8,1764.5" fill="none" stroke="#141414" stroke-width="1.9" stroke-linejoin="miter"/>
<polygon points="3203.0,1785.0 3206.6,1792.3 3198.9,1791.3" fill="none" stroke="#141414" stroke-width="1.9" stroke-linejoin="miter"/>
<polygon points="2891.6,1794.2 2900.6,1799.3 2893.8,1803.6" fill="none" stroke="#141414" stroke-width="1.9" stroke-linejoin="miter"/>
<polygon points="2877.5,1754.7 2873.0,1760.5 2869.8,1753.1" fill="none" stroke="#141414" stroke-width="1.9" stroke-linejoin="miter"/>
<polygon points="3280.4,1844.6 3272.9,1847.1 3274.6,1839.5" fill="none" stroke="#141414" stroke-width="1.9" stroke-linejoin="miter"/>
<polygon points="3411.7,1841.9 3415.2,1849.0 3408.9,1848.9" fill="none" stroke="#141414" stroke-width="1.9" stroke-linejoin="miter"/>
<polygon points="3454.2,1848.4 3449.3,1854.2 3445.6,1846.6" fill="none" stroke="#141414" stroke-width="1.9" stroke-linejoin="miter"/>
<polygon points="3502.6,1855.2 3494.5,1856.7 3496.8,1848.8" fill="none" stroke="#141414" stroke-width="1.9" stroke-linejoin="miter"/>
<polygon points="3510.9,1856.2 3506.1,1862.5 3502.4,1855.1" fill="none" stroke="#141414" stroke-width="1.9" stroke-linejoin="miter"/>
<polygon points="3008.6,1870.3 2999.9,1874.8 3001.7,1865.3" fill="none" stroke="#141414" stroke-width="1.9" stroke-linejoin="miter"/>
<polygon points="3171.1,1884.0 3176.5,1875.9 3180.3,1884.3" fill="none" stroke="#141414" stroke-width="1.9" stroke-linejoin="miter"/>
<polygon points="2887.3,1894.1 2881.2,1900.4 2879.1,1892.6" fill="none" stroke="#141414" stroke-width="1.9" stroke-linejoin="miter"/>
<polygon points="2907.0,1894.1 2913.0,1887.3 2914.8,1895.0" fill="none" stroke="#141414" stroke-width="1.9" stroke-linejoin="miter"/>
<polygon points="2901.2,1904.7 2905.6,1913.4 2897.9,1913.0" fill="none" stroke="#141414" stroke-width="1.9" stroke-linejoin="miter"/>
<polygon points="2878.7,1999.6 2873.8,2005.6 2871.3,1998.0" fill="none" stroke="#141414" stroke-width="1.9" stroke-linejoin="miter"/>
<polygon points="3184.7,2005.7 3190.8,2010.4 3184.8,2013.2" fill="none" stroke="#141414" stroke-width="1.9" stroke-linejoin="miter"/>
<polygon points="3491.8,1984.9 3495.5,1992.6 3486.3,1993.5" fill="none" stroke="#141414" stroke-width="1.9" stroke-linejoin="miter"/>
<polygon points="2901.0,2032.6 2904.0,2039.0 2896.7,2040.2" fill="none" stroke="#141414" stroke-width="1.9" stroke-linejoin="miter"/>
<text x="0" y="0" text-anchor="start" style="font-size:68.31px;" transform="translate(2907.7,2354.5) scale(0.9662,1)" textLength="609.1" lengthAdjust="spacingAndGlyphs">(h) Sectional view 3-3</text>
</svg></body></html>
